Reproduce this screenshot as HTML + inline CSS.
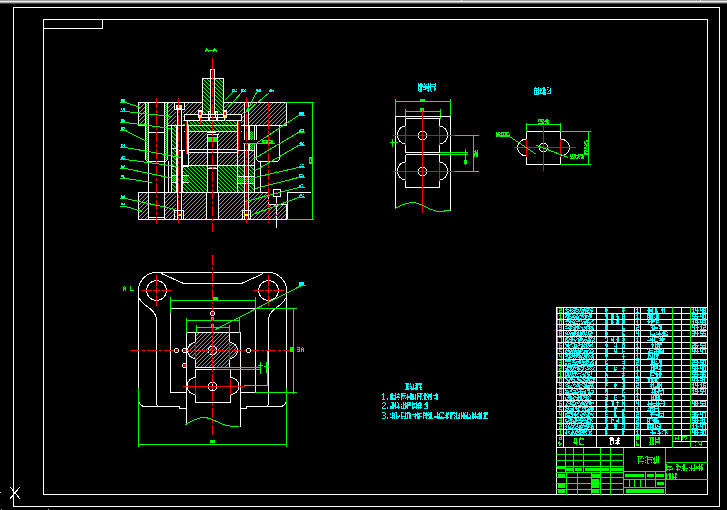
<!DOCTYPE html><html><head><meta charset="utf-8"><style>html,body{margin:0;padding:0;background:#000;width:727px;height:510px;overflow:hidden}svg{display:block}</style></head><body><svg width="727" height="510" viewBox="0 0 727 510" shape-rendering="crispEdges">
<defs><pattern id="hp" patternUnits="userSpaceOnUse" x="0" y="0" width="4" height="4">
<rect x="3" y="0" width="1" height="1" fill="#00ff00"/><rect x="2" y="1" width="1" height="1" fill="#00ff00"/>
<rect x="1" y="2" width="1" height="1" fill="#00ff00"/><rect x="0" y="3" width="1" height="1" fill="#00ff00"/></pattern>
<pattern id="hb" patternUnits="userSpaceOnUse" x="0" y="0" width="4" height="4">
<rect x="0" y="0" width="1" height="1" fill="#00ff00"/><rect x="1" y="1" width="1" height="1" fill="#00ff00"/>
<rect x="2" y="2" width="1" height="1" fill="#00ff00"/><rect x="3" y="3" width="1" height="1" fill="#00ff00"/></pattern>
<pattern id="kn" patternUnits="userSpaceOnUse" x="0" y="0" width="2" height="2">
<rect x="0" y="0" width="1" height="1" fill="#00ff00"/><rect x="1" y="1" width="1" height="1" fill="#00ff00"/></pattern></defs>
<rect width="727" height="510" fill="#000"/>
<rect x="0" y="0" width="727" height="1" fill="#9a9a9a"/>
<rect x="0" y="1" width="727" height="1" fill="#eeeeee"/>
<rect x="0" y="2" width="727" height="1" fill="#a6a6a6"/>
<rect x="0" y="3" width="727" height="1" fill="#454545"/>
<rect x="700" y="0" width="1" height="1" fill="#dddddd"/>
<rect x="461" y="0" width="1" height="1" fill="#dddddd"/>
<rect x="0" y="492" width="1" height="1" fill="#bbbbbb"/>
<rect x="1" y="509" width="1" height="1" fill="#bbbbbb"/>
<rect x="48" y="509" width="1" height="1" fill="#bbbbbb"/>
<rect x="13" y="7" width="707" height="1" fill="#ffffff"/>
<rect x="13" y="506" width="707" height="1" fill="#ffffff"/>
<rect x="13" y="7" width="1" height="500" fill="#ffffff"/>
<rect x="719" y="7" width="1" height="500" fill="#ffffff"/>
<rect x="43" y="19" width="665" height="1" fill="#ffffff"/>
<rect x="43" y="494" width="665" height="1" fill="#ffffff"/>
<rect x="43" y="19" width="1" height="476" fill="#ffffff"/>
<rect x="707" y="19" width="1" height="476" fill="#ffffff"/>
<rect x="43" y="19" width="60" height="1" fill="#ffffff"/>
<rect x="43" y="28" width="60" height="1" fill="#ffffff"/>
<rect x="43" y="19" width="1" height="10" fill="#ffffff"/>
<rect x="102" y="19" width="1" height="10" fill="#ffffff"/>
<line x1="10.5" y1="487.5" x2="20.5" y2="499.5" stroke="#ffffff" stroke-width="1"/>
<line x1="19.5" y1="487.5" x2="9.5" y2="499.5" stroke="#ffffff" stroke-width="1"/>
<rect x="138" y="102" width="149" height="23" fill="#000"/>
<rect x="138" y="102" width="149" height="23" fill="url(#hp)"/>
<rect x="202" y="78" width="22" height="37" fill="#000"/>
<rect x="202" y="78" width="22" height="37" fill="url(#hb)"/>
<rect x="184" y="120" width="57" height="12" fill="#000"/>
<rect x="184" y="120" width="57" height="12" fill="url(#hb)"/>
<rect x="171" y="125" width="5" height="67" fill="#000"/>
<rect x="171" y="125" width="5" height="67" fill="url(#hb)"/>
<rect x="188" y="132" width="49" height="17" fill="#000"/>
<rect x="188" y="132" width="49" height="17" fill="url(#hp)"/>
<rect x="188" y="152" width="49" height="13" fill="#000"/>
<rect x="188" y="152" width="49" height="13" fill="url(#hp)"/>
<rect x="182" y="165" width="55" height="27" fill="#000"/>
<rect x="182" y="165" width="55" height="27" fill="url(#hb)"/>
<rect x="238" y="150" width="16" height="15" fill="#000"/>
<rect x="238" y="150" width="16" height="15" fill="url(#hp)"/>
<rect x="238" y="165" width="16" height="27" fill="#000"/>
<rect x="238" y="165" width="16" height="27" fill="url(#hb)"/>
<rect x="138" y="192" width="148" height="28" fill="#000"/>
<rect x="138" y="192" width="148" height="28" fill="url(#hp)"/>
<rect x="145" y="102" width="23" height="59" fill="#000"/>
<rect x="148" y="161" width="17" height="58" fill="#000"/>
<rect x="176" y="102" width="7" height="117" fill="#000"/>
<rect x="174" y="102" width="10" height="8" fill="#000"/>
<rect x="184" y="114" width="58" height="6" fill="#000"/>
<rect x="210" y="69" width="5" height="45" fill="#000"/>
<rect x="207" y="132" width="11" height="60" fill="#000"/>
<rect x="206" y="192" width="12" height="27" fill="#000"/>
<rect x="244" y="102" width="5" height="117" fill="#000"/>
<rect x="254" y="125" width="34" height="67" fill="#000"/>
<rect x="268" y="192" width="20" height="12" fill="#000"/>
<rect x="188" y="149" width="49" height="3" fill="#000"/>
<rect x="176" y="125" width="12" height="25" fill="#000"/>
<rect x="169" y="125" width="7" height="1" fill="#000"/>
<rect x="146" y="103" width="2" height="58" fill="url(#kn)"/>
<rect x="165" y="103" width="2" height="58" fill="url(#kn)"/>
<rect x="238" y="176" width="16" height="7" fill="url(#kn)"/>
<rect x="249" y="131" width="5" height="19" fill="#000"/>
<rect x="250" y="131" width="3" height="19" fill="url(#kn)"/>
<rect x="249" y="125" width="1" height="26" fill="#ffffff"/>
<rect x="254" y="125" width="1" height="68" fill="#ffffff"/>
<rect x="202" y="78" width="1" height="37" fill="#ffffff"/>
<rect x="223" y="78" width="1" height="37" fill="#ffffff"/>
<rect x="202" y="78" width="22" height="1" fill="#ffffff"/>
<rect x="210" y="69" width="1" height="46" fill="#ffffff"/>
<rect x="214" y="69" width="1" height="46" fill="#ffffff"/>
<rect x="210" y="69" width="5" height="1" fill="#ffffff"/>
<rect x="138" y="102" width="65" height="1" fill="#ffffff"/>
<rect x="223" y="102" width="64" height="1" fill="#ffffff"/>
<rect x="138" y="102" width="1" height="24" fill="#ffffff"/>
<rect x="286" y="102" width="1" height="24" fill="#ffffff"/>
<rect x="138" y="125" width="8" height="1" fill="#ffffff"/>
<rect x="168" y="125" width="17" height="1" fill="#ffffff"/>
<rect x="184" y="125" width="58" height="1" fill="#ffffff"/>
<rect x="241" y="125" width="46" height="1" fill="#ffffff"/>
<rect x="145" y="102" width="1" height="57" fill="#ffffff"/>
<rect x="148" y="102" width="1" height="117" fill="#ffffff"/>
<rect x="164" y="102" width="1" height="117" fill="#ffffff"/>
<rect x="167" y="102" width="1" height="57" fill="#ffffff"/>
<rect x="148" y="161" width="17" height="1" fill="#ffffff"/>
<path d="M145.5 158 Q145.5 161.5 148.5 161.5" fill="none" stroke="#ffffff" stroke-width="1"/>
<path d="M167.5 158 Q167.5 161.5 164.5 161.5" fill="none" stroke="#ffffff" stroke-width="1"/>
<rect x="148" y="132" width="17" height="1" fill="#ffffff"/>
<rect x="148" y="217" width="17" height="1" fill="#ffffff"/>
<rect x="148" y="219" width="17" height="1" fill="#ffffff"/>
<rect x="174" y="102" width="11" height="1" fill="#ffffff"/>
<rect x="174" y="109" width="11" height="1" fill="#ffffff"/>
<rect x="174" y="102" width="1" height="8" fill="#ffffff"/>
<rect x="184" y="102" width="1" height="8" fill="#ffffff"/>
<rect x="176" y="105" width="6" height="1" fill="#ffffff"/>
<rect x="176" y="108" width="6" height="1" fill="#ffffff"/>
<rect x="176" y="105" width="1" height="4" fill="#ffffff"/>
<rect x="181" y="105" width="1" height="4" fill="#ffffff"/>
<rect x="177" y="106" width="4" height="2" fill="#ffff00"/>
<rect x="177" y="109" width="1" height="111" fill="#ffffff"/>
<rect x="181" y="109" width="1" height="111" fill="#ffffff"/>
<rect x="184" y="114" width="58" height="1" fill="#ffffff"/>
<rect x="184" y="120" width="58" height="1" fill="#ffffff"/>
<rect x="184" y="114" width="1" height="7" fill="#ffffff"/>
<rect x="241" y="114" width="1" height="7" fill="#ffffff"/>
<rect x="199" y="117" width="1" height="4" fill="#ffffff"/>
<rect x="208" y="117" width="1" height="4" fill="#ffffff"/>
<rect x="209" y="117" width="1" height="4" fill="#ffffff"/>
<rect x="216" y="117" width="1" height="4" fill="#ffffff"/>
<rect x="217" y="117" width="1" height="4" fill="#ffffff"/>
<rect x="224" y="117" width="1" height="4" fill="#ffffff"/>
<rect x="199" y="117" width="26" height="1" fill="#ffffff"/>
<rect x="208" y="111" width="3" height="1" fill="#ffffff"/>
<rect x="208" y="117" width="3" height="1" fill="#ffffff"/>
<rect x="208" y="111" width="1" height="7" fill="#ffffff"/>
<rect x="210" y="111" width="1" height="7" fill="#ffffff"/>
<rect x="215" y="111" width="3" height="1" fill="#ffffff"/>
<rect x="215" y="117" width="3" height="1" fill="#ffffff"/>
<rect x="215" y="111" width="1" height="7" fill="#ffffff"/>
<rect x="217" y="111" width="1" height="7" fill="#ffffff"/>
<rect x="198" y="110" width="4" height="8" fill="#ffffff"/>
<rect x="199" y="112" width="2" height="3" fill="#ff0000"/>
<rect x="199" y="116" width="3" height="2" fill="#ffff00"/>
<rect x="200" y="118" width="1" height="7" fill="#ff0000"/>
<rect x="223" y="110" width="4" height="8" fill="#ffffff"/>
<rect x="224" y="112" width="2" height="3" fill="#ff0000"/>
<rect x="223" y="116" width="3" height="2" fill="#ffff00"/>
<rect x="225" y="118" width="1" height="7" fill="#ff0000"/>
<rect x="184" y="131" width="58" height="1" fill="#ffffff"/>
<rect x="188" y="149" width="50" height="1" fill="#ffffff"/>
<rect x="188" y="152" width="50" height="1" fill="#ffffff"/>
<rect x="182" y="165" width="60" height="1" fill="#ffffff"/>
<rect x="138" y="192" width="131" height="1" fill="#ffffff"/>
<rect x="188" y="125" width="1" height="41" fill="#ffffff"/>
<rect x="237" y="125" width="1" height="68" fill="#ffffff"/>
<rect x="168" y="161" width="1" height="32" fill="#ffffff"/>
<rect x="171" y="125" width="1" height="68" fill="#ffffff"/>
<rect x="176" y="125" width="1" height="68" fill="#ffffff"/>
<rect x="182" y="150" width="1" height="43" fill="#ffffff"/>
<rect x="171" y="148" width="6" height="1" fill="#ffffff"/>
<rect x="171" y="166" width="6" height="1" fill="#ffffff"/>
<rect x="182" y="166" width="7" height="1" fill="#ffffff"/>
<rect x="171" y="175" width="6" height="1" fill="#ffffff"/>
<rect x="182" y="175" width="7" height="1" fill="#ffffff"/>
<rect x="171" y="182" width="6" height="1" fill="#ffffff"/>
<rect x="182" y="182" width="7" height="1" fill="#ffffff"/>
<rect x="176" y="150" width="13" height="1" fill="#ffffff"/>
<rect x="172" y="176" width="4" height="6" fill="#000"/>
<rect x="172" y="176" width="4" height="6" fill="url(#kn)"/>
<rect x="183" y="176" width="4" height="6" fill="#000"/>
<rect x="183" y="176" width="4" height="6" fill="url(#kn)"/>
<rect x="185" y="121" width="3" height="32" fill="#000"/>
<rect x="187" y="121" width="1" height="33" fill="#ffffff"/>
<rect x="186" y="121" width="1" height="33" fill="#ff0000"/>
<rect x="238" y="121" width="3" height="32" fill="#000"/>
<rect x="237" y="121" width="1" height="33" fill="#ffffff"/>
<rect x="238" y="121" width="1" height="33" fill="#ff0000"/>
<rect x="207" y="132" width="9" height="1" fill="#ffffff"/>
<rect x="207" y="134" width="12" height="1" fill="#ffffff"/>
<rect x="207" y="134" width="1" height="59" fill="#ffffff"/>
<rect x="217" y="134" width="1" height="59" fill="#ffffff"/>
<rect x="208" y="137" width="9" height="5" fill="#00ff00"/>
<rect x="208" y="165" width="9" height="1" fill="#ffffff"/>
<rect x="208" y="168" width="10" height="1" fill="#ffffff"/>
<rect x="209" y="167" width="7" height="1" fill="#00ff00"/>
<rect x="206" y="192" width="1" height="28" fill="#ffffff"/>
<rect x="218" y="192" width="1" height="28" fill="#ffffff"/>
<rect x="244" y="102" width="1" height="118" fill="#ffffff"/>
<rect x="248" y="102" width="1" height="118" fill="#ffffff"/>
<rect x="254" y="125" width="1" height="68" fill="#ffffff"/>
<path d="M256.5 125.5 V158 Q256.5 161.5 260 161.5 H276 Q279.5 161.5 279.5 158 V125.5" fill="none" stroke="#ffffff" stroke-width="1"/>
<rect x="260" y="162" width="1" height="31" fill="#ffffff"/>
<rect x="238" y="150" width="17" height="1" fill="#ffffff"/>
<rect x="238" y="165" width="17" height="1" fill="#ffffff"/>
<rect x="238" y="176" width="17" height="1" fill="#ffffff"/>
<rect x="238" y="183" width="17" height="1" fill="#ffffff"/>
<rect x="242" y="140" width="32" height="4" fill="#000"/>
<rect x="243" y="143" width="32" height="1" fill="#00ff00"/>
<rect x="262" y="140" width="11" height="3" fill="#00ff00"/>
<rect x="264" y="141" width="2" height="1" fill="#000"/>
<rect x="269" y="141" width="2" height="1" fill="#000"/>
<rect x="268" y="192" width="1" height="13" fill="#ffffff"/>
<rect x="268" y="204" width="19" height="1" fill="#ffffff"/>
<rect x="286" y="204" width="1" height="16" fill="#ffffff"/>
<rect x="138" y="219" width="149" height="1" fill="#ffffff"/>
<rect x="138" y="192" width="1" height="28" fill="#ffffff"/>
<rect x="287" y="192" width="24" height="1" fill="#ffffff"/>
<rect x="287" y="192" width="1" height="28" fill="#ffffff"/>
<rect x="174" y="210" width="10" height="1" fill="#ffffff"/>
<rect x="174" y="219" width="10" height="1" fill="#ffffff"/>
<rect x="174" y="210" width="1" height="10" fill="#ffffff"/>
<rect x="183" y="210" width="1" height="10" fill="#ffffff"/>
<rect x="177" y="214" width="4" height="2" fill="#ffff00"/>
<rect x="178" y="215" width="2" height="0" fill="#000"/>
<rect x="242" y="210" width="9" height="1" fill="#ffffff"/>
<rect x="242" y="219" width="9" height="1" fill="#ffffff"/>
<rect x="242" y="210" width="1" height="10" fill="#ffffff"/>
<rect x="250" y="210" width="1" height="10" fill="#ffffff"/>
<rect x="244" y="214" width="4" height="2" fill="#ffff00"/>
<rect x="245" y="215" width="2" height="0" fill="#000"/>
<rect x="273" y="189" width="7" height="7" fill="#000"/>
<rect x="273" y="189" width="8" height="1" fill="#ffffff"/>
<rect x="273" y="196" width="8" height="1" fill="#ffffff"/>
<rect x="273" y="189" width="1" height="8" fill="#ffffff"/>
<rect x="280" y="189" width="1" height="8" fill="#ffffff"/>
<rect x="276" y="196" width="1" height="32" fill="#ffffff"/>
<rect x="276" y="192" width="1" height="2" fill="#ff00ff"/>
<rect x="276" y="203" width="1" height="2" fill="#ff00ff"/>
<rect x="276" y="214" width="1" height="2" fill="#ff00ff"/>
<rect x="276" y="171" width="1" height="1" fill="#ff00ff"/><rect x="276" y="183" width="1" height="1" fill="#ff00ff"/>
<rect x="212" y="58" width="1" height="12" fill="#ff0000"/>
<rect x="212" y="70" width="1" height="10" fill="#ff0000"/>
<rect x="212" y="82" width="1" height="3" fill="#ff0000"/>
<rect x="212" y="87" width="1" height="10" fill="#ff0000"/>
<rect x="212" y="99" width="1" height="3" fill="#ff0000"/>
<rect x="212" y="104" width="1" height="10" fill="#ff0000"/>
<rect x="212" y="116" width="1" height="3" fill="#ff0000"/>
<rect x="212" y="121" width="1" height="10" fill="#ff0000"/>
<rect x="212" y="133" width="1" height="3" fill="#ff0000"/>
<rect x="212" y="138" width="1" height="10" fill="#ff0000"/>
<rect x="212" y="150" width="1" height="3" fill="#ff0000"/>
<rect x="212" y="155" width="1" height="10" fill="#ff0000"/>
<rect x="212" y="167" width="1" height="3" fill="#ff0000"/>
<rect x="212" y="172" width="1" height="10" fill="#ff0000"/>
<rect x="212" y="184" width="1" height="3" fill="#ff0000"/>
<rect x="212" y="189" width="1" height="10" fill="#ff0000"/>
<rect x="212" y="201" width="1" height="3" fill="#ff0000"/>
<rect x="212" y="206" width="1" height="10" fill="#ff0000"/>
<rect x="212" y="218" width="1" height="3" fill="#ff0000"/>
<rect x="212" y="223" width="1" height="9" fill="#ff0000"/>
<rect x="156" y="98" width="1" height="10" fill="#ff0000"/>
<rect x="156" y="110" width="1" height="3" fill="#ff0000"/>
<rect x="156" y="115" width="1" height="10" fill="#ff0000"/>
<rect x="156" y="127" width="1" height="3" fill="#ff0000"/>
<rect x="156" y="132" width="1" height="10" fill="#ff0000"/>
<rect x="156" y="144" width="1" height="3" fill="#ff0000"/>
<rect x="156" y="149" width="1" height="10" fill="#ff0000"/>
<rect x="156" y="161" width="1" height="3" fill="#ff0000"/>
<rect x="156" y="166" width="1" height="10" fill="#ff0000"/>
<rect x="156" y="178" width="1" height="3" fill="#ff0000"/>
<rect x="156" y="183" width="1" height="10" fill="#ff0000"/>
<rect x="156" y="195" width="1" height="3" fill="#ff0000"/>
<rect x="156" y="200" width="1" height="10" fill="#ff0000"/>
<rect x="156" y="212" width="1" height="3" fill="#ff0000"/>
<rect x="156" y="217" width="1" height="7" fill="#ff0000"/>
<rect x="178" y="98" width="1" height="10" fill="#ff0000"/>
<rect x="178" y="110" width="1" height="3" fill="#ff0000"/>
<rect x="178" y="115" width="1" height="10" fill="#ff0000"/>
<rect x="178" y="127" width="1" height="3" fill="#ff0000"/>
<rect x="178" y="132" width="1" height="10" fill="#ff0000"/>
<rect x="178" y="144" width="1" height="3" fill="#ff0000"/>
<rect x="178" y="149" width="1" height="10" fill="#ff0000"/>
<rect x="178" y="161" width="1" height="3" fill="#ff0000"/>
<rect x="178" y="166" width="1" height="10" fill="#ff0000"/>
<rect x="178" y="178" width="1" height="3" fill="#ff0000"/>
<rect x="178" y="183" width="1" height="10" fill="#ff0000"/>
<rect x="178" y="195" width="1" height="3" fill="#ff0000"/>
<rect x="178" y="200" width="1" height="10" fill="#ff0000"/>
<rect x="178" y="212" width="1" height="3" fill="#ff0000"/>
<rect x="178" y="217" width="1" height="6" fill="#ff0000"/>
<rect x="246" y="97" width="1" height="10" fill="#ff0000"/>
<rect x="246" y="109" width="1" height="3" fill="#ff0000"/>
<rect x="246" y="114" width="1" height="10" fill="#ff0000"/>
<rect x="246" y="126" width="1" height="3" fill="#ff0000"/>
<rect x="246" y="131" width="1" height="10" fill="#ff0000"/>
<rect x="246" y="143" width="1" height="3" fill="#ff0000"/>
<rect x="246" y="148" width="1" height="10" fill="#ff0000"/>
<rect x="246" y="160" width="1" height="3" fill="#ff0000"/>
<rect x="246" y="165" width="1" height="10" fill="#ff0000"/>
<rect x="246" y="177" width="1" height="3" fill="#ff0000"/>
<rect x="246" y="182" width="1" height="10" fill="#ff0000"/>
<rect x="246" y="194" width="1" height="3" fill="#ff0000"/>
<rect x="246" y="199" width="1" height="10" fill="#ff0000"/>
<rect x="246" y="211" width="1" height="3" fill="#ff0000"/>
<rect x="246" y="216" width="1" height="7" fill="#ff0000"/>
<rect x="268" y="102" width="1" height="10" fill="#ff0000"/>
<rect x="268" y="114" width="1" height="3" fill="#ff0000"/>
<rect x="268" y="119" width="1" height="10" fill="#ff0000"/>
<rect x="268" y="131" width="1" height="3" fill="#ff0000"/>
<rect x="268" y="136" width="1" height="10" fill="#ff0000"/>
<rect x="268" y="148" width="1" height="3" fill="#ff0000"/>
<rect x="268" y="153" width="1" height="10" fill="#ff0000"/>
<rect x="268" y="165" width="1" height="3" fill="#ff0000"/>
<rect x="268" y="170" width="1" height="10" fill="#ff0000"/>
<rect x="268" y="182" width="1" height="3" fill="#ff0000"/>
<rect x="268" y="187" width="1" height="10" fill="#ff0000"/>
<rect x="268" y="199" width="1" height="3" fill="#ff0000"/>
<rect x="268" y="204" width="1" height="10" fill="#ff0000"/>
<rect x="268" y="216" width="1" height="3" fill="#ff0000"/>
<rect x="268" y="221" width="1" height="2" fill="#ff0000"/>
<rect x="286" y="102" width="28" height="1" fill="#00ff00"/>
<rect x="312" y="102" width="1" height="118" fill="#00ff00"/>
<rect x="287" y="219" width="27" height="1" fill="#00ff00"/>
<rect x="309" y="157" width="3" height="7" fill="#00ff00"/>
<rect x="310" y="159" width="1" height="3" fill="#000"/>
<rect x="120" y="102" width="6" height="1" fill="#00ff00"/>
<line x1="125.5" y1="102.5" x2="140.5" y2="107.5" stroke="#00ff00" stroke-width="1"/>
<rect x="120" y="111" width="6" height="1" fill="#00ff00"/>
<line x1="125.5" y1="111.5" x2="171.5" y2="116.5" stroke="#00ff00" stroke-width="1"/>
<rect x="120" y="122" width="6" height="1" fill="#00ff00"/>
<line x1="125.5" y1="122.5" x2="171.5" y2="128.5" stroke="#00ff00" stroke-width="1"/>
<rect x="120" y="130" width="6" height="1" fill="#00ff00"/>
<line x1="125.5" y1="130.5" x2="146.5" y2="141.5" stroke="#00ff00" stroke-width="1"/>
<rect x="120" y="147" width="6" height="1" fill="#00ff00"/>
<line x1="125.5" y1="147.5" x2="181.5" y2="157.5" stroke="#00ff00" stroke-width="1"/>
<rect x="120" y="159" width="6" height="1" fill="#00ff00"/>
<line x1="125.5" y1="159.5" x2="177.5" y2="166.5" stroke="#00ff00" stroke-width="1"/>
<rect x="120" y="168" width="6" height="1" fill="#00ff00"/>
<line x1="125.5" y1="168.5" x2="173.5" y2="178.5" stroke="#00ff00" stroke-width="1"/>
<rect x="120" y="178" width="6" height="1" fill="#00ff00"/>
<line x1="125.5" y1="178.5" x2="152.5" y2="182.5" stroke="#00ff00" stroke-width="1"/>
<rect x="120" y="198" width="6" height="1" fill="#00ff00"/>
<line x1="125.5" y1="198.5" x2="175.5" y2="209.5" stroke="#00ff00" stroke-width="1"/>
<rect x="120" y="206" width="6" height="1" fill="#00ff00"/>
<line x1="125.5" y1="206.5" x2="142.5" y2="211.5" stroke="#00ff00" stroke-width="1"/>
<rect x="298" y="115" width="7" height="1" fill="#00ff00"/>
<line x1="298.5" y1="115.5" x2="254.5" y2="144.5" stroke="#00ff00" stroke-width="1"/>
<rect x="298" y="132" width="7" height="1" fill="#00ff00"/>
<line x1="298.5" y1="132.5" x2="254.5" y2="158.5" stroke="#00ff00" stroke-width="1"/>
<rect x="298" y="145" width="7" height="1" fill="#00ff00"/>
<line x1="298.5" y1="145.5" x2="255.5" y2="170.5" stroke="#00ff00" stroke-width="1"/>
<rect x="298" y="167" width="7" height="1" fill="#00ff00"/>
<line x1="298.5" y1="167.5" x2="254.5" y2="177.5" stroke="#00ff00" stroke-width="1"/>
<rect x="298" y="177" width="7" height="1" fill="#00ff00"/>
<line x1="298.5" y1="177.5" x2="255.5" y2="188.5" stroke="#00ff00" stroke-width="1"/>
<rect x="298" y="187" width="7" height="1" fill="#00ff00"/>
<line x1="298.5" y1="187.5" x2="245.5" y2="201.5" stroke="#00ff00" stroke-width="1"/>
<rect x="298" y="197" width="7" height="1" fill="#00ff00"/>
<line x1="298.5" y1="197.5" x2="252.5" y2="214.5" stroke="#00ff00" stroke-width="1"/>
<line x1="232.5" y1="92.5" x2="224.5" y2="100.5" stroke="#00ff00" stroke-width="1"/>
<line x1="241.5" y1="92.5" x2="226.5" y2="109.5" stroke="#00ff00" stroke-width="1"/>
<line x1="256.5" y1="92.5" x2="246.5" y2="111.5" stroke="#00ff00" stroke-width="1"/>
<line x1="269.5" y1="92.5" x2="244.5" y2="113.5" stroke="#00ff00" stroke-width="1"/>
<path d="M195.5 332.5 H229.5 V342.5 A8 8 0 0 1 229.5 358.5 V367.5 H195.5 V358.5 A8 8 0 0 1 195.5 342.5 Z" fill="url(#hp)" stroke="none"/>
<path d="M195.5 332.5 H229.5 V342.5 A8 8 0 0 1 229.5 358.5 V367.5 H195.5 V358.5 A8 8 0 0 1 195.5 342.5 Z" fill="none" stroke="#ffffff" stroke-width="1"/>
<path d="M156.5 272.5 H268.5" fill="none" stroke="#ffffff" stroke-width="1"/>
<path d="M138.5 290.5 A18 18 0 0 1 156.5 272.5" fill="none" stroke="#ffffff" stroke-width="1"/>
<path d="M268.5 272.5 A18 18 0 0 1 286.5 290.5" fill="none" stroke="#ffffff" stroke-width="1"/>
<path d="M138.5 290.5 V400 A6.5 6.5 0 0 0 145 406.5 H179.5 V408.5 H185.5" fill="none" stroke="#ffffff" stroke-width="1"/>
<path d="M286.5 290.5 V400 A6.5 6.5 0 0 1 280 406.5 H246.5 V408.5 H239.5" fill="none" stroke="#ffffff" stroke-width="1"/>
<path d="M139.5 298.5 C142 304 147 306 151 309.5 C155 313 156.5 316 156.5 320 V403 Q156.5 406.5 160 406.5" fill="none" stroke="#ffffff" stroke-width="1"/>
<path d="M285.5 298.5 C283 304 278 306 274 309.5 C270 313 268.5 316 268.5 320 V403 Q268.5 406.5 265 406.5" fill="none" stroke="#ffffff" stroke-width="1"/>
<path d="M161.5 273.5 L183.5 283.5 H241.5 L263.5 273.5" fill="none" stroke="#ffffff" stroke-width="1"/>
<circle cx="156.5" cy="290.5" r="10" fill="none" stroke="#ffffff" stroke-width="1"/>
<circle cx="268.5" cy="290.5" r="10" fill="none" stroke="#ffffff" stroke-width="1"/>
<rect x="170" y="308" width="1" height="85" fill="#ffffff"/>
<rect x="170" y="308" width="86" height="1" fill="#ffffff"/>
<rect x="255" y="297" width="1" height="96" fill="#ffffff"/>
<rect x="170" y="392" width="17" height="1" fill="#ffffff"/>
<rect x="240" y="392" width="16" height="1" fill="#ffffff"/>
<rect x="186" y="332" width="1" height="93" fill="#ffffff"/>
<rect x="240" y="332" width="1" height="95" fill="#ffffff"/>
<rect x="186" y="332" width="55" height="1" fill="#ffffff"/>
<rect x="170" y="300" width="86" height="1" fill="#00ff00"/>
<rect x="170" y="297" width="1" height="16" fill="#00ff00"/>
<rect x="255" y="297" width="1" height="12" fill="#00ff00"/>
<rect x="213" y="297" width="5" height="4" fill="#00ff00"/>
<rect x="255" y="308" width="42" height="1" fill="#00ff00"/>
<rect x="293" y="308" width="1" height="86" fill="#00ff00"/>
<rect x="255" y="392" width="42" height="1" fill="#00ff00"/>
<rect x="186" y="320" width="54" height="1" fill="#00ff00"/>
<rect x="186" y="318" width="1" height="15" fill="#00ff00"/>
<rect x="239" y="318" width="1" height="15" fill="#00ff00"/>
<rect x="211" y="317" width="3" height="3" fill="#00ff00"/>
<rect x="196" y="327" width="34" height="1" fill="#00ff00"/>
<rect x="196" y="325" width="1" height="8" fill="#00ff00"/>
<rect x="229" y="325" width="1" height="8" fill="#00ff00"/>
<rect x="211" y="324" width="3" height="3" fill="#00ff00"/>
<circle cx="212.5" cy="350.5" r="4.5" fill="none" stroke="#ffffff" stroke-width="1"/>
<rect x="195" y="342" width="1" height="18" fill="#ff0000"/>
<rect x="229" y="342" width="1" height="18" fill="#ff0000"/>
<rect x="210" y="313" width="5" height="1" fill="#ff0000"/>
<rect x="212" y="311" width="1" height="5" fill="#ff0000"/>
<path d="M195.5 377.5 V369.5 H230.5 V377.5 A8.5 8.5 0 0 1 230.5 394.5 V402.5 H195.5 V394.5 A8.5 8.5 0 0 1 195.5 377.5" fill="none" stroke="#ffffff" stroke-width="1"/>
<circle cx="212.5" cy="386.5" r="4.3" fill="none" stroke="#ffffff" stroke-width="1"/>
<rect x="195" y="379" width="1" height="16" fill="#ff0000"/>
<rect x="230" y="379" width="1" height="16" fill="#ff0000"/>
<rect x="212" y="382" width="1" height="10" fill="#ffffff"/>
<rect x="208" y="386" width="10" height="1" fill="#ffffff"/>
<rect x="212" y="255" width="1" height="10" fill="#ff0000"/>
<rect x="212" y="267" width="1" height="3" fill="#ff0000"/>
<rect x="212" y="272" width="1" height="10" fill="#ff0000"/>
<rect x="212" y="284" width="1" height="3" fill="#ff0000"/>
<rect x="212" y="289" width="1" height="10" fill="#ff0000"/>
<rect x="212" y="301" width="1" height="3" fill="#ff0000"/>
<rect x="212" y="306" width="1" height="10" fill="#ff0000"/>
<rect x="212" y="318" width="1" height="3" fill="#ff0000"/>
<rect x="212" y="323" width="1" height="10" fill="#ff0000"/>
<rect x="212" y="335" width="1" height="3" fill="#ff0000"/>
<rect x="212" y="340" width="1" height="10" fill="#ff0000"/>
<rect x="212" y="352" width="1" height="3" fill="#ff0000"/>
<rect x="212" y="357" width="1" height="10" fill="#ff0000"/>
<rect x="212" y="369" width="1" height="3" fill="#ff0000"/>
<rect x="212" y="374" width="1" height="10" fill="#ff0000"/>
<rect x="212" y="386" width="1" height="3" fill="#ff0000"/>
<rect x="212" y="391" width="1" height="10" fill="#ff0000"/>
<rect x="212" y="403" width="1" height="3" fill="#ff0000"/>
<rect x="212" y="408" width="1" height="10" fill="#ff0000"/>
<rect x="212" y="420" width="1" height="3" fill="#ff0000"/>
<rect x="212" y="425" width="1" height="10" fill="#ff0000"/>
<rect x="130" y="350" width="10" height="1" fill="#ff0000"/>
<rect x="142" y="350" width="3" height="1" fill="#ff0000"/>
<rect x="147" y="350" width="10" height="1" fill="#ff0000"/>
<rect x="159" y="350" width="3" height="1" fill="#ff0000"/>
<rect x="164" y="350" width="10" height="1" fill="#ff0000"/>
<rect x="176" y="350" width="3" height="1" fill="#ff0000"/>
<rect x="181" y="350" width="10" height="1" fill="#ff0000"/>
<rect x="193" y="350" width="3" height="1" fill="#ff0000"/>
<rect x="198" y="350" width="10" height="1" fill="#ff0000"/>
<rect x="210" y="350" width="3" height="1" fill="#ff0000"/>
<rect x="215" y="350" width="10" height="1" fill="#ff0000"/>
<rect x="227" y="350" width="3" height="1" fill="#ff0000"/>
<rect x="232" y="350" width="10" height="1" fill="#ff0000"/>
<rect x="244" y="350" width="3" height="1" fill="#ff0000"/>
<rect x="249" y="350" width="10" height="1" fill="#ff0000"/>
<rect x="261" y="350" width="3" height="1" fill="#ff0000"/>
<rect x="266" y="350" width="10" height="1" fill="#ff0000"/>
<rect x="278" y="350" width="3" height="1" fill="#ff0000"/>
<rect x="283" y="350" width="10" height="1" fill="#ff0000"/>
<rect x="183" y="386" width="62" height="1" fill="#ff0000"/>
<rect x="141" y="290" width="11" height="1" fill="#ff0000"/>
<rect x="156" y="275" width="1" height="11" fill="#ff0000"/>
<rect x="153" y="290" width="3" height="1" fill="#ff0000"/>
<rect x="156" y="287" width="1" height="3" fill="#ff0000"/>
<rect x="157" y="290" width="3" height="1" fill="#ff0000"/>
<rect x="156" y="291" width="1" height="3" fill="#ff0000"/>
<rect x="161" y="290" width="11" height="1" fill="#ff0000"/>
<rect x="156" y="295" width="1" height="11" fill="#ff0000"/>
<rect x="156" y="290" width="1" height="1" fill="#ff0000"/>
<rect x="253" y="290" width="11" height="1" fill="#ff0000"/>
<rect x="268" y="275" width="1" height="11" fill="#ff0000"/>
<rect x="265" y="290" width="3" height="1" fill="#ff0000"/>
<rect x="268" y="287" width="1" height="3" fill="#ff0000"/>
<rect x="269" y="290" width="3" height="1" fill="#ff0000"/>
<rect x="268" y="291" width="1" height="3" fill="#ff0000"/>
<rect x="273" y="290" width="11" height="1" fill="#ff0000"/>
<rect x="268" y="295" width="1" height="11" fill="#ff0000"/>
<rect x="268" y="290" width="1" height="1" fill="#ff0000"/>
<path d="M185.5 424.5 C192 421 198 417 204.5 417.5 C212 418 218 423 225 425 C230 426.5 235 426.5 239.5 426" fill="none" stroke="#00ff00" stroke-width="1"/>
<rect x="138" y="444" width="149" height="1" fill="#00ff00"/>
<rect x="138" y="388" width="1" height="59" fill="#00ff00"/>
<rect x="286" y="388" width="1" height="59" fill="#00ff00"/>
<rect x="210" y="440" width="5" height="3" fill="#00ff00"/>
<line x1="215.5" y1="329.5" x2="301.5" y2="285.5" stroke="#00ff00" stroke-width="1"/>
<rect x="299" y="282" width="5" height="4" fill="#00ffff"/>
<rect x="301" y="285" width="5" height="1" fill="#00ff00"/>
<rect x="267" y="351" width="1" height="35" fill="#00ff00"/>
<rect x="244" y="385" width="24" height="1" fill="#00ff00"/>
<rect x="215" y="367" width="46" height="1" fill="#00ff00"/>
<rect x="215" y="369" width="46" height="1" fill="#00ff00"/>
<rect x="260" y="362" width="1" height="12" fill="#00ff00"/>
<rect x="258" y="365" width="5" height="1" fill="#00ff00"/>
<rect x="266" y="362" width="1" height="11" fill="#00ff00"/>
<rect x="264" y="366" width="5" height="1" fill="#00ff00"/>
<rect x="290" y="347" width="4" height="5" fill="#00ff00"/>
<rect x="182" y="365" width="5" height="1" fill="#ff0000"/>
<rect x="184" y="363" width="1" height="5" fill="#ff0000"/>
<rect x="395" y="101" width="56" height="1" fill="#00ff00"/>
<rect x="395" y="99" width="1" height="18" fill="#00ff00"/>
<rect x="450" y="99" width="1" height="18" fill="#00ff00"/>
<rect x="420" y="99" width="5" height="2" fill="#00ff00"/>
<rect x="405" y="111" width="36" height="1" fill="#00ff00"/>
<rect x="405" y="109" width="1" height="10" fill="#00ff00"/>
<rect x="440" y="109" width="1" height="10" fill="#00ff00"/>
<rect x="420" y="108" width="4" height="3" fill="#00ff00"/>
<rect x="395" y="116" width="1" height="93" fill="#ffffff"/>
<rect x="450" y="116" width="1" height="95" fill="#ffffff"/>
<rect x="395" y="116" width="56" height="1" fill="#ffffff"/>
<path d="M405.5 118.5 H439.5 V126 M439.5 144 V152.5 H405.5 V144 M405.5 126 V118.5" fill="none" stroke="#fff"/>
<path d="M405.5 154.5 H439.5 V162 M439.5 180 V187.5 H405.5 V180 M405.5 162 V154.5" fill="none" stroke="#fff"/>
<path d="M405.5 126 A8 9 0 0 0 405.5 144" fill="none" stroke="#ffffff" stroke-width="1"/>
<path d="M439.5 126 A8 9 0 0 1 439.5 144" fill="none" stroke="#ffffff" stroke-width="1"/>
<rect x="405" y="126" width="1" height="19" fill="#ff0000"/>
<rect x="439" y="126" width="1" height="19" fill="#ff0000"/>
<circle cx="422.5" cy="135.5" r="4.4" fill="none" stroke="#ffffff" stroke-width="1"/>
<rect x="393" y="135" width="62" height="1" fill="#ff0000"/>
<path d="M405.5 162 A8 9 0 0 0 405.5 180" fill="none" stroke="#ffffff" stroke-width="1"/>
<path d="M439.5 162 A8 9 0 0 1 439.5 180" fill="none" stroke="#ffffff" stroke-width="1"/>
<rect x="405" y="162" width="1" height="19" fill="#ff0000"/>
<rect x="439" y="162" width="1" height="19" fill="#ff0000"/>
<circle cx="422.5" cy="171.5" r="4.4" fill="none" stroke="#ffffff" stroke-width="1"/>
<rect x="393" y="171" width="62" height="1" fill="#ff0000"/>
<rect x="422" y="110" width="1" height="103" fill="#ff0000"/>
<rect x="455" y="135" width="24" height="1" fill="#00ff00"/>
<rect x="455" y="171" width="24" height="1" fill="#00ff00"/>
<rect x="473" y="135" width="1" height="37" fill="#00ff00"/>
<rect x="440" y="152" width="28" height="1" fill="#00ff00"/>
<rect x="440" y="154" width="28" height="1" fill="#00ff00"/>
<rect x="465" y="149" width="1" height="16" fill="#00ff00"/>
<rect x="464" y="160" width="3" height="4" fill="#00ff00"/>
<rect x="390" y="142" width="8" height="1" fill="#00ff00"/>
<rect x="392" y="139" width="1" height="8" fill="#00ff00"/>
<path d="M395.5 208.5 C401 205 407 202.5 413.5 202.5 C421 202.5 430 211.5 439.5 211.5 C444 211.5 447 210.5 449.5 210" fill="none" stroke="#00ff00" stroke-width="1"/>
<path d="M526.5 139 V131.5 H560.5 V139 M560.5 156 V164.5 H526.5 V156" fill="none" stroke="#fff"/>
<path d="M526.5 139 A9 8.5 0 0 0 526.5 156" fill="none" stroke="#ffffff" stroke-width="1"/>
<path d="M560.5 139 A9 8.5 0 0 1 560.5 156" fill="none" stroke="#ffffff" stroke-width="1"/>
<rect x="526" y="139" width="1" height="18" fill="#ff0000"/>
<rect x="560" y="139" width="1" height="18" fill="#ff0000"/>
<circle cx="543.5" cy="147.5" r="4.4" fill="none" stroke="#ffffff" stroke-width="1"/>
<rect x="514" y="147" width="62" height="1" fill="#ff0000"/>
<rect x="543" y="126" width="1" height="45" fill="#ff0000"/>
<rect x="526" y="124" width="35" height="1" fill="#00ff00"/>
<rect x="526" y="123" width="1" height="9" fill="#00ff00"/>
<rect x="560" y="123" width="1" height="9" fill="#00ff00"/>
<rect x="560" y="131" width="31" height="1" fill="#00ff00"/>
<rect x="560" y="164" width="31" height="1" fill="#00ff00"/>
<rect x="588" y="131" width="1" height="34" fill="#00ff00"/>
<line x1="509.5" y1="136.5" x2="536.5" y2="154.5" stroke="#00ff00" stroke-width="1"/>
<line x1="536.5" y1="145.5" x2="568.5" y2="157.5" stroke="#00ff00" stroke-width="1"/>
<rect x="556" y="307" width="152" height="1" fill="#ffffff"/>
<rect x="556" y="313" width="152" height="1" fill="#ffffff"/>
<rect x="556" y="319" width="152" height="1" fill="#ffffff"/>
<rect x="556" y="324" width="152" height="1" fill="#ffffff"/>
<rect x="556" y="330" width="152" height="1" fill="#ffffff"/>
<rect x="556" y="336" width="152" height="1" fill="#ffffff"/>
<rect x="556" y="342" width="152" height="1" fill="#ffffff"/>
<rect x="556" y="348" width="152" height="1" fill="#ffffff"/>
<rect x="556" y="353" width="152" height="1" fill="#ffffff"/>
<rect x="556" y="359" width="152" height="1" fill="#ffffff"/>
<rect x="556" y="365" width="152" height="1" fill="#ffffff"/>
<rect x="556" y="371" width="152" height="1" fill="#ffffff"/>
<rect x="556" y="377" width="152" height="1" fill="#ffffff"/>
<rect x="556" y="382" width="152" height="1" fill="#ffffff"/>
<rect x="556" y="388" width="152" height="1" fill="#ffffff"/>
<rect x="556" y="394" width="152" height="1" fill="#ffffff"/>
<rect x="556" y="400" width="152" height="1" fill="#ffffff"/>
<rect x="556" y="406" width="152" height="1" fill="#ffffff"/>
<rect x="556" y="411" width="152" height="1" fill="#ffffff"/>
<rect x="556" y="417" width="152" height="1" fill="#ffffff"/>
<rect x="556" y="423" width="152" height="1" fill="#ffffff"/>
<rect x="556" y="429" width="152" height="1" fill="#ffffff"/>
<rect x="556" y="435" width="152" height="1" fill="#ffffff"/>
<rect x="556" y="447" width="152" height="1" fill="#ffffff"/>
<rect x="556" y="494" width="152" height="1" fill="#ffffff"/>
<rect x="556" y="307" width="1" height="129" fill="#ffffff"/>
<rect x="563" y="307" width="1" height="129" fill="#ffffff"/>
<rect x="596" y="307" width="1" height="129" fill="#ffffff"/>
<rect x="634" y="307" width="1" height="129" fill="#ffffff"/>
<rect x="640" y="307" width="1" height="129" fill="#ffffff"/>
<rect x="681" y="307" width="1" height="129" fill="#ffffff"/>
<rect x="707" y="307" width="1" height="129" fill="#ffffff"/>
<rect x="672" y="307" width="1" height="141" fill="#00ff00"/>
<rect x="690" y="307" width="1" height="141" fill="#00ff00"/>
<rect x="556" y="435" width="1" height="60" fill="#ffffff"/>
<rect x="707" y="435" width="1" height="60" fill="#ffffff"/>
<rect x="563" y="435" width="1" height="13" fill="#ffffff"/>
<rect x="596" y="435" width="1" height="13" fill="#ffffff"/>
<rect x="634" y="435" width="1" height="13" fill="#ffffff"/>
<rect x="640" y="435" width="1" height="13" fill="#ffffff"/>
<rect x="681" y="435" width="1" height="7" fill="#ffffff"/>
<rect x="672" y="441" width="36" height="1" fill="#ffffff"/>
<rect x="556" y="454" width="68" height="1" fill="#00ff00"/>
<rect x="556" y="460" width="68" height="1" fill="#00ff00"/>
<rect x="556" y="466" width="68" height="1" fill="#00ff00"/>
<rect x="556" y="472" width="68" height="1" fill="#00ff00"/>
<rect x="556" y="477" width="68" height="1" fill="#00ff00"/>
<rect x="556" y="483" width="68" height="1" fill="#00ff00"/>
<rect x="556" y="489" width="68" height="1" fill="#00ff00"/>
<rect x="565" y="448" width="1" height="25" fill="#00ff00"/>
<rect x="573" y="448" width="1" height="25" fill="#00ff00"/>
<rect x="583" y="448" width="1" height="25" fill="#00ff00"/>
<rect x="600" y="448" width="1" height="25" fill="#00ff00"/>
<rect x="610" y="448" width="1" height="25" fill="#00ff00"/>
<rect x="623" y="448" width="1" height="25" fill="#00ff00"/>
<rect x="566" y="472" width="1" height="23" fill="#00ff00"/>
<rect x="577" y="472" width="1" height="23" fill="#00ff00"/>
<rect x="591" y="472" width="1" height="23" fill="#00ff00"/>
<rect x="600" y="472" width="1" height="23" fill="#00ff00"/>
<rect x="610" y="472" width="1" height="23" fill="#00ff00"/>
<rect x="623" y="448" width="1" height="47" fill="#00ff00"/>
<rect x="665" y="448" width="1" height="47" fill="#00ff00"/>
<rect x="623" y="471" width="43" height="1" fill="#00ff00"/>
<rect x="623" y="479" width="43" height="1" fill="#00ff00"/>
<rect x="623" y="487" width="43" height="1" fill="#00ff00"/>
<rect x="645" y="471" width="1" height="17" fill="#00ff00"/>
<rect x="655" y="471" width="1" height="17" fill="#00ff00"/>
<rect x="629" y="479" width="1" height="9" fill="#00ff00"/>
<rect x="634" y="479" width="1" height="9" fill="#00ff00"/>
<rect x="640" y="479" width="1" height="9" fill="#00ff00"/>
<rect x="625" y="474" width="19" height="3" fill="#00ff00"/>
<rect x="647" y="474" width="7" height="3" fill="#00ff00"/>
<rect x="656" y="474" width="8" height="3" fill="#00ff00"/>
<rect x="657" y="482" width="7" height="3" fill="#00ff00"/>
<rect x="626" y="489" width="38" height="4" fill="#00ff00"/>
<rect x="665" y="462" width="43" height="1" fill="#00ff00"/>
<rect x="665" y="479" width="43" height="1" fill="#00ff00"/>
<rect x="557" y="466" width="8" height="3" fill="#00ff00"/>
<rect x="566" y="468" width="7" height="3" fill="#00ff00"/>
<rect x="575" y="468" width="7" height="3" fill="#00ff00"/>
<rect x="585" y="468" width="24" height="3" fill="#00ff00"/>
<rect x="611" y="468" width="12" height="3" fill="#00ff00"/>
<rect x="558" y="474" width="7" height="3" fill="#00ff00"/>
<rect x="591" y="474" width="9" height="3" fill="#00ff00"/>
<rect x="592" y="479" width="7" height="4" fill="#00ff00"/>
<rect x="558" y="484" width="7" height="4" fill="#00ff00"/>
<rect x="592" y="484" width="7" height="4" fill="#00ff00"/>
<rect x="558" y="490" width="7" height="3" fill="#00ff00"/>
<rect x="592" y="490" width="7" height="3" fill="#00ff00"/>
<path d="M206 48h1v1h-1zM214 48h1v1h-1zM206 49h2v1h-2zM213 49h3v1h-3zM205 50h12v1h-12zM205 51h1v1h-1zM208 51h1v1h-1zM213 51h1v1h-1zM216 51h1v1h-1zM124 286h1v1h-1zM123 287h1v1h-1zM125 287h1v1h-1zM123 288h3v1h-3zM123 289h1v1h-1zM125 289h1v1h-1zM123 290h1v1h-1zM125 290h1v1h-1zM130 286h1v1h-1zM130 287h1v1h-1zM130 288h1v1h-1zM130 289h1v1h-1zM130 290h4v1h-4zM297 347h3v1h-3zM299 348h1v1h-1zM297 349h3v1h-3zM299 350h1v1h-1zM297 351h3v1h-3zM302 347h1v1h-1zM301 348h1v1h-1zM303 348h1v1h-1zM301 349h3v1h-3zM301 350h1v1h-1zM303 350h1v1h-1zM301 351h1v1h-1zM303 351h1v1h-1zM475 150h1v1h-1zM477 150h1v1h-1zM474 151h2v1h-2zM477 151h1v1h-1zM475 152h3v1h-3zM474 153h4v1h-4zM474 154h4v1h-4zM474 155h1v1h-1zM476 155h2v1h-2zM474 156h1v1h-1zM476 156h2v1h-2zM538 119h6v1h-6zM546 119h2v1h-2zM538 120h1v1h-1zM540 120h2v1h-2zM543 120h1v1h-1zM545 120h4v1h-4zM538 121h1v1h-1zM540 121h3v1h-3zM544 121h4v1h-4zM542 122h2v1h-2zM546 122h3v1h-3zM538 123h6v1h-6zM545 123h1v1h-1zM547 123h2v1h-2zM586 140h3v1h-3zM584 141h1v1h-1zM586 141h2v1h-2zM584 142h2v1h-2zM588 142h1v1h-1zM584 143h2v1h-2zM587 143h1v1h-1zM585 144h2v1h-2zM588 144h1v1h-1zM584 145h1v1h-1zM586 145h3v1h-3zM586 146h1v1h-1zM588 146h1v1h-1zM584 147h2v1h-2zM588 147h1v1h-1zM584 148h3v1h-3zM588 148h1v1h-1zM588 149h1v1h-1zM584 150h3v1h-3zM588 150h1v1h-1zM584 151h1v1h-1zM586 151h3v1h-3zM584 152h2v1h-2zM584 153h4v1h-4zM584 154h5v1h-5zM496 132h1v1h-1zM498 132h2v1h-2zM501 132h8v1h-8zM496 133h3v1h-3zM500 133h2v1h-2zM503 133h1v1h-1zM505 133h2v1h-2zM496 134h4v1h-4zM501 134h1v1h-1zM503 134h1v1h-1zM505 134h2v1h-2zM509 134h1v1h-1zM496 135h14v1h-14zM496 136h2v1h-2zM499 136h11v1h-11zM570 154h1v1h-1zM572 154h4v1h-4zM578 154h5v1h-5zM570 155h1v1h-1zM572 155h1v1h-1zM574 155h5v1h-5zM580 155h4v1h-4zM570 156h3v1h-3zM574 156h2v1h-2zM578 156h2v1h-2zM582 156h2v1h-2zM571 157h1v1h-1zM573 157h1v1h-1zM575 157h1v1h-1zM577 157h2v1h-2zM581 157h3v1h-3zM570 158h5v1h-5zM576 158h2v1h-2zM579 158h1v1h-1zM581 158h3v1h-3zM557 308h1v1h-1zM557 309h1v1h-1zM557 310h1v1h-1zM557 311h1v1h-1zM557 312h1v1h-1zM559 308h3v1h-3zM561 309h1v1h-1zM559 310h3v1h-3zM559 311h1v1h-1zM559 312h3v1h-3zM557 314h1v1h-1zM557 315h1v1h-1zM557 316h1v1h-1zM557 317h1v1h-1zM557 318h1v1h-1zM560 314h1v1h-1zM559 315h2v1h-2zM560 316h1v1h-1zM560 317h1v1h-1zM559 318h3v1h-3zM557 320h1v1h-1zM557 321h1v1h-1zM557 322h1v1h-1zM557 323h1v1h-1zM559 320h3v1h-3zM559 321h1v1h-1zM561 321h1v1h-1zM559 322h1v1h-1zM561 322h1v1h-1zM559 323h1v1h-1zM561 323h1v1h-1zM557 325h1v1h-1zM557 326h1v1h-1zM557 327h1v1h-1zM557 328h1v1h-1zM557 329h1v1h-1zM559 325h3v1h-3zM559 326h1v1h-1zM561 326h1v1h-1zM559 327h3v1h-3zM561 328h1v1h-1zM559 329h3v1h-3zM557 331h1v1h-1zM557 332h1v1h-1zM557 333h1v1h-1zM557 334h1v1h-1zM557 335h1v1h-1zM559 331h3v1h-3zM559 332h1v1h-1zM561 332h1v1h-1zM559 333h3v1h-3zM559 334h1v1h-1zM561 334h1v1h-1zM559 335h3v1h-3zM557 337h1v1h-1zM557 338h1v1h-1zM557 339h1v1h-1zM557 340h1v1h-1zM557 341h1v1h-1zM559 337h3v1h-3zM561 338h1v1h-1zM561 339h1v1h-1zM561 340h1v1h-1zM561 341h1v1h-1zM557 343h1v1h-1zM557 344h1v1h-1zM557 345h1v1h-1zM557 346h1v1h-1zM557 347h1v1h-1zM559 343h3v1h-3zM559 344h1v1h-1zM559 345h3v1h-3zM559 346h1v1h-1zM561 346h1v1h-1zM559 347h3v1h-3zM557 349h1v1h-1zM557 350h1v1h-1zM557 351h1v1h-1zM557 352h1v1h-1zM559 349h3v1h-3zM559 350h1v1h-1zM559 351h3v1h-3zM561 352h1v1h-1zM557 354h1v1h-1zM557 355h1v1h-1zM557 356h1v1h-1zM557 357h1v1h-1zM557 358h1v1h-1zM559 354h1v1h-1zM561 354h1v1h-1zM559 355h1v1h-1zM561 355h1v1h-1zM559 356h3v1h-3zM561 357h1v1h-1zM561 358h1v1h-1zM557 360h1v1h-1zM557 361h1v1h-1zM557 362h1v1h-1zM557 363h1v1h-1zM557 364h1v1h-1zM559 360h3v1h-3zM561 361h1v1h-1zM559 362h3v1h-3zM561 363h1v1h-1zM559 364h3v1h-3zM557 366h1v1h-1zM557 367h1v1h-1zM557 368h1v1h-1zM557 369h1v1h-1zM557 370h1v1h-1zM559 366h3v1h-3zM561 367h1v1h-1zM559 368h3v1h-3zM559 369h1v1h-1zM559 370h3v1h-3zM557 372h1v1h-1zM557 373h1v1h-1zM557 374h1v1h-1zM557 375h1v1h-1zM557 376h1v1h-1zM560 372h1v1h-1zM559 373h2v1h-2zM560 374h1v1h-1zM560 375h1v1h-1zM559 376h3v1h-3zM557 378h1v1h-1zM557 379h1v1h-1zM557 380h1v1h-1zM557 381h1v1h-1zM559 378h3v1h-3zM559 379h1v1h-1zM561 379h1v1h-1zM559 380h1v1h-1zM561 380h1v1h-1zM559 381h1v1h-1zM561 381h1v1h-1zM559 383h3v1h-3zM559 384h1v1h-1zM561 384h1v1h-1zM559 385h3v1h-3zM561 386h1v1h-1zM559 387h3v1h-3zM559 389h3v1h-3zM559 390h1v1h-1zM561 390h1v1h-1zM559 391h3v1h-3zM559 392h1v1h-1zM561 392h1v1h-1zM559 393h3v1h-3zM559 395h3v1h-3zM561 396h1v1h-1zM561 397h1v1h-1zM561 398h1v1h-1zM561 399h1v1h-1zM559 401h3v1h-3zM559 402h1v1h-1zM559 403h3v1h-3zM559 404h1v1h-1zM561 404h1v1h-1zM559 405h3v1h-3zM559 407h3v1h-3zM559 408h1v1h-1zM559 409h3v1h-3zM561 410h1v1h-1zM559 412h1v1h-1zM561 412h1v1h-1zM559 413h1v1h-1zM561 413h1v1h-1zM559 414h3v1h-3zM561 415h1v1h-1zM561 416h1v1h-1zM559 418h3v1h-3zM561 419h1v1h-1zM559 420h3v1h-3zM561 421h1v1h-1zM559 422h3v1h-3zM559 424h3v1h-3zM561 425h1v1h-1zM559 426h3v1h-3zM559 427h1v1h-1zM559 428h3v1h-3zM560 430h1v1h-1zM559 431h2v1h-2zM560 432h1v1h-1zM560 433h1v1h-1zM559 434h3v1h-3zM574 438h3v1h-3zM574 439h1v1h-1zM576 439h1v1h-1zM574 440h1v1h-1zM576 440h1v1h-1zM574 441h1v1h-1zM576 441h1v1h-1zM573 442h5v1h-5zM574 443h3v1h-3zM576 444h1v1h-1zM580 437h1v1h-1zM579 438h5v1h-5zM579 439h2v1h-2zM582 439h2v1h-2zM579 440h1v1h-1zM579 441h1v1h-1zM579 442h1v1h-1zM579 443h2v1h-2zM579 444h5v1h-5zM649 437h5v1h-5zM650 438h1v1h-1zM652 438h2v1h-2zM650 439h1v1h-1zM652 439h2v1h-2zM650 440h1v1h-1zM652 440h2v1h-2zM650 441h1v1h-1zM652 441h2v1h-2zM649 442h2v1h-2zM652 442h2v1h-2zM650 443h1v1h-1zM652 443h2v1h-2zM649 444h5v1h-5zM655 437h1v1h-1zM658 437h2v1h-2zM655 438h1v1h-1zM658 438h2v1h-2zM655 439h5v1h-5zM655 440h1v1h-1zM659 440h1v1h-1zM655 441h5v1h-5zM655 442h5v1h-5zM655 443h1v1h-1zM659 443h1v1h-1zM655 444h1v1h-1zM678 436h1v1h-1zM675 437h1v1h-1zM678 437h1v1h-1zM675 438h4v1h-4zM675 439h1v1h-1zM678 439h1v1h-1zM682 436h5v1h-5zM682 437h1v1h-1zM684 437h1v1h-1zM682 438h1v1h-1zM686 438h1v1h-1zM682 439h1v1h-1zM685 439h1v1h-1zM697 441h5v1h-5zM695 442h1v1h-1zM698 442h1v1h-1zM701 442h1v1h-1zM701 443h1v1h-1zM699 444h3v1h-3zM695 445h1v1h-1zM701 445h1v1h-1zM561 436h1v1h-1zM559 437h3v1h-3zM559 438h1v1h-1zM561 438h1v1h-1zM559 439h3v1h-3zM559 441h1v1h-1zM558 442h2v1h-2zM558 443h4v1h-4zM559 444h2v1h-2zM559 445h1v1h-1zM636 436h3v1h-3zM636 437h3v1h-3zM636 438h3v1h-3zM636 439h3v1h-3zM636 441h1v1h-1zM636 442h1v1h-1zM636 443h1v1h-1zM636 444h3v1h-3zM636 445h3v1h-3zM637 456h6v1h-6zM638 457h1v1h-1zM641 457h1v1h-1zM638 458h1v1h-1zM640 458h1v1h-1zM643 458h1v1h-1zM638 459h1v1h-1zM638 460h1v1h-1zM638 461h6v1h-6zM638 462h1v1h-1zM638 463h1v1h-1zM642 463h1v1h-1zM646 456h2v1h-2zM645 457h1v1h-1zM647 457h5v1h-5zM647 458h1v1h-1zM647 459h5v1h-5zM645 460h1v1h-1zM647 460h1v1h-1zM651 460h1v1h-1zM647 461h1v1h-1zM645 462h1v1h-1zM647 462h1v1h-1zM651 462h1v1h-1zM647 463h2v1h-2zM656 456h1v1h-1zM658 456h1v1h-1zM652 457h1v1h-1zM654 457h1v1h-1zM656 457h1v1h-1zM658 457h1v1h-1zM653 458h2v1h-2zM656 458h1v1h-1zM658 458h1v1h-1zM653 459h2v1h-2zM656 459h3v1h-3zM654 460h1v1h-1zM656 460h3v1h-3zM654 461h1v1h-1zM656 461h1v1h-1zM658 461h1v1h-1zM653 462h6v1h-6zM654 463h2v1h-2zM666 464h1v1h-1zM666 465h1v1h-1zM666 466h6v1h-6zM666 467h2v1h-2zM669 467h2v1h-2zM666 468h1v1h-1zM672 468h1v1h-1zM666 469h7v1h-7zM666 470h1v1h-1zM669 470h1v1h-1zM676 464h2v1h-2zM677 465h2v1h-2zM676 466h5v1h-5zM677 467h1v1h-1zM680 467h1v1h-1zM677 468h1v1h-1zM676 469h4v1h-4zM677 470h1v1h-1zM683 464h2v1h-2zM683 465h2v1h-2zM682 466h3v1h-3zM683 467h2v1h-2zM682 468h6v1h-6zM683 469h2v1h-2zM681 470h1v1h-1zM683 470h2v1h-2zM686 470h1v1h-1zM694 464h1v1h-1zM691 465h1v1h-1zM694 465h1v1h-1zM691 466h1v1h-1zM694 466h1v1h-1zM689 467h1v1h-1zM691 467h1v1h-1zM694 467h1v1h-1zM690 468h6v1h-6zM691 469h1v1h-1zM694 469h1v1h-1zM689 470h1v1h-1zM691 470h1v1h-1zM693 470h2v1h-2zM699 464h1v1h-1zM701 464h2v1h-2zM699 465h1v1h-1zM701 465h1v1h-1zM696 466h1v1h-1zM698 466h4v1h-4zM696 467h2v1h-2zM699 467h1v1h-1zM701 467h2v1h-2zM696 468h7v1h-7zM699 469h1v1h-1zM701 469h2v1h-2zM699 470h1v1h-1zM701 470h1v1h-1zM666 473h1v1h-1zM669 473h2v1h-2zM666 474h1v1h-1zM668 474h3v1h-3zM666 475h2v1h-2zM669 475h2v1h-2zM666 476h1v1h-1zM669 476h2v1h-2zM666 477h1v1h-1zM669 477h2v1h-2zM666 478h1v1h-1zM669 478h2v1h-2zM666 479h5v1h-5zM672 473h1v1h-1zM675 473h2v1h-2zM672 474h2v1h-2zM675 474h2v1h-2zM672 475h1v1h-1zM675 475h1v1h-1zM672 476h2v1h-2zM675 476h1v1h-1zM672 477h5v1h-5zM672 478h2v1h-2zM675 478h1v1h-1zM672 479h1v1h-1zM674 479h2v1h-2z" fill="#00ff00"/>
<path d="M121 99h4v1h-4zM121 100h4v1h-4zM121 101h4v1h-4zM121 108h1v1h-1zM123 108h2v1h-2zM121 109h1v1h-1zM123 109h2v1h-2zM122 110h1v1h-1zM124 110h1v1h-1zM121 119h3v1h-3zM121 120h4v1h-4zM121 121h4v1h-4zM121 127h4v1h-4zM121 128h2v1h-2zM124 128h1v1h-1zM121 129h3v1h-3zM121 144h2v1h-2zM124 144h1v1h-1zM121 145h1v1h-1zM123 145h2v1h-2zM121 146h2v1h-2zM124 146h1v1h-1zM122 156h3v1h-3zM121 157h2v1h-2zM121 158h4v1h-4zM121 165h1v1h-1zM124 165h1v1h-1zM121 166h4v1h-4zM121 167h3v1h-3zM121 175h3v1h-3zM121 176h3v1h-3zM123 177h2v1h-2zM121 195h1v1h-1zM124 195h1v1h-1zM121 196h4v1h-4zM121 197h4v1h-4zM121 203h2v1h-2zM124 203h1v1h-1zM121 204h4v1h-4zM299 112h5v1h-5zM299 113h5v1h-5zM299 114h5v1h-5zM300 129h4v1h-4zM299 130h2v1h-2zM303 130h1v1h-1zM299 131h5v1h-5zM300 142h2v1h-2zM303 142h1v1h-1zM299 143h4v1h-4zM300 144h4v1h-4zM300 164h1v1h-1zM302 164h2v1h-2zM299 166h5v1h-5zM299 174h4v1h-4zM299 175h1v1h-1zM303 175h1v1h-1zM299 176h5v1h-5zM301 184h2v1h-2zM299 185h2v1h-2zM299 186h2v1h-2zM302 186h1v1h-1zM300 194h2v1h-2zM303 194h1v1h-1zM299 195h3v1h-3zM299 196h1v1h-1zM302 196h2v1h-2zM232 89h3v1h-3zM236 89h1v1h-1zM232 90h1v1h-1zM234 90h1v1h-1zM232 91h5v1h-5zM241 89h3v1h-3zM245 89h1v1h-1zM241 90h2v1h-2zM244 90h1v1h-1zM241 91h5v1h-5zM256 89h2v1h-2zM259 89h2v1h-2zM256 90h5v1h-5zM257 91h4v1h-4zM270 89h2v1h-2zM269 90h5v1h-5zM269 91h3v1h-3zM273 91h1v1h-1zM418 83h1v1h-1zM420 83h2v1h-2zM418 84h5v1h-5zM418 85h5v1h-5zM418 86h6v1h-6zM418 87h1v1h-1zM420 87h2v1h-2zM423 87h1v1h-1zM418 88h1v1h-1zM420 88h2v1h-2zM418 89h4v1h-4zM423 89h1v1h-1zM418 90h1v1h-1zM420 90h2v1h-2zM419 91h3v1h-3zM424 83h1v1h-1zM428 83h1v1h-1zM424 84h1v1h-1zM426 84h1v1h-1zM428 84h1v1h-1zM425 85h1v1h-1zM428 85h1v1h-1zM424 86h6v1h-6zM424 87h6v1h-6zM425 88h4v1h-4zM424 89h2v1h-2zM428 89h1v1h-1zM427 90h2v1h-2zM428 91h1v1h-1zM430 83h1v1h-1zM435 83h1v1h-1zM430 84h6v1h-6zM430 85h1v1h-1zM435 85h1v1h-1zM430 86h6v1h-6zM430 87h1v1h-1zM434 87h1v1h-1zM430 88h1v1h-1zM434 88h2v1h-2zM430 89h1v1h-1zM434 89h2v1h-2zM430 90h1v1h-1zM434 90h1v1h-1zM431 91h1v1h-1zM535 87h1v1h-1zM538 87h1v1h-1zM534 88h5v1h-5zM534 89h1v1h-1zM536 89h1v1h-1zM538 89h1v1h-1zM534 90h6v1h-6zM534 91h1v1h-1zM536 91h1v1h-1zM538 91h1v1h-1zM534 92h1v1h-1zM536 92h3v1h-3zM534 93h1v1h-1zM536 93h1v1h-1zM538 93h2v1h-2zM534 94h5v1h-5zM543 87h2v1h-2zM540 88h1v1h-1zM542 88h3v1h-3zM540 89h2v1h-2zM543 89h3v1h-3zM540 90h2v1h-2zM543 90h2v1h-2zM540 91h1v1h-1zM543 91h2v1h-2zM540 92h1v1h-1zM542 92h4v1h-4zM540 93h5v1h-5zM543 94h3v1h-3zM547 87h2v1h-2zM550 88h1v1h-1zM545 89h1v1h-1zM547 89h1v1h-1zM550 89h1v1h-1zM545 90h1v1h-1zM549 90h2v1h-2zM548 91h1v1h-1zM550 91h1v1h-1zM550 92h1v1h-1zM545 93h1v1h-1zM547 93h4v1h-4zM405 383h4v1h-4zM406 384h3v1h-3zM406 385h2v1h-2zM406 386h3v1h-3zM406 387h2v1h-2zM406 388h3v1h-3zM405 389h4v1h-4zM410 383h1v1h-1zM410 384h1v1h-1zM413 384h1v1h-1zM413 385h1v1h-1zM410 386h2v1h-2zM413 386h1v1h-1zM411 387h1v1h-1zM413 387h1v1h-1zM410 388h4v1h-4zM411 389h3v1h-3zM415 383h3v1h-3zM416 384h2v1h-2zM415 385h3v1h-3zM416 386h2v1h-2zM415 387h3v1h-3zM414 388h4v1h-4zM415 389h3v1h-3zM418 383h4v1h-4zM418 384h4v1h-4zM420 385h1v1h-1zM420 386h1v1h-1zM419 387h3v1h-3zM420 388h1v1h-1zM420 389h2v1h-2zM383 393h1v1h-1zM382 394h2v1h-2zM383 395h1v1h-1zM383 396h1v1h-1zM383 397h1v1h-1zM383 398h1v1h-1zM382 399h3v1h-3zM387 398h1v1h-1zM387 399h1v1h-1zM391 393h2v1h-2zM390 394h3v1h-3zM390 395h5v1h-5zM390 396h3v1h-3zM390 397h3v1h-3zM390 398h5v1h-5zM390 399h5v1h-5zM395 393h1v1h-1zM398 393h1v1h-1zM395 394h1v1h-1zM397 394h3v1h-3zM395 395h1v1h-1zM395 396h1v1h-1zM397 396h2v1h-2zM395 397h5v1h-5zM395 398h1v1h-1zM395 399h1v1h-1zM398 399h1v1h-1zM401 393h5v1h-5zM401 394h2v1h-2zM401 395h5v1h-5zM401 396h2v1h-2zM404 396h1v1h-1zM401 397h1v1h-1zM401 398h1v1h-1zM403 398h1v1h-1zM405 398h1v1h-1zM401 399h1v1h-1zM410 393h1v1h-1zM407 394h1v1h-1zM410 394h1v1h-1zM407 395h1v1h-1zM410 395h1v1h-1zM407 396h4v1h-4zM406 397h5v1h-5zM407 398h1v1h-1zM410 398h1v1h-1zM407 399h1v1h-1zM410 399h1v1h-1zM411 393h1v1h-1zM411 394h3v1h-3zM415 394h1v1h-1zM411 395h3v1h-3zM415 395h1v1h-1zM411 396h3v1h-3zM415 396h1v1h-1zM411 397h3v1h-3zM415 397h1v1h-1zM411 398h5v1h-5zM411 399h3v1h-3zM415 399h1v1h-1zM417 393h5v1h-5zM417 394h1v1h-1zM420 394h2v1h-2zM417 395h2v1h-2zM420 395h1v1h-1zM417 396h5v1h-5zM417 397h1v1h-1zM420 397h1v1h-1zM417 398h1v1h-1zM420 398h1v1h-1zM417 399h1v1h-1zM420 399h1v1h-1zM422 393h1v1h-1zM424 393h2v1h-2zM424 394h3v1h-3zM423 395h4v1h-4zM424 396h2v1h-2zM424 397h2v1h-2zM424 398h2v1h-2zM422 399h1v1h-1zM424 399h3v1h-3zM427 393h1v1h-1zM431 393h1v1h-1zM428 394h4v1h-4zM428 395h4v1h-4zM427 396h5v1h-5zM427 397h2v1h-2zM430 397h2v1h-2zM428 398h1v1h-1zM431 398h1v1h-1zM428 399h1v1h-1zM430 399h2v1h-2zM436 393h1v1h-1zM435 394h3v1h-3zM433 395h5v1h-5zM436 396h2v1h-2zM436 397h2v1h-2zM434 398h4v1h-4zM436 399h2v1h-2zM383 402h2v1h-2zM382 403h1v1h-1zM385 403h1v1h-1zM385 404h1v1h-1zM384 405h1v1h-1zM383 406h1v1h-1zM382 407h1v1h-1zM382 408h4v1h-4zM387 407h1v1h-1zM387 408h1v1h-1zM391 402h3v1h-3zM392 403h2v1h-2zM392 404h3v1h-3zM392 405h3v1h-3zM390 406h5v1h-5zM390 407h4v1h-4zM390 408h4v1h-4zM395 402h1v1h-1zM397 402h1v1h-1zM395 403h1v1h-1zM398 403h1v1h-1zM395 404h1v1h-1zM398 404h1v1h-1zM395 405h1v1h-1zM398 405h1v1h-1zM395 406h1v1h-1zM397 406h2v1h-2zM395 407h5v1h-5zM395 408h1v1h-1zM398 408h1v1h-1zM403 402h1v1h-1zM405 402h1v1h-1zM403 403h1v1h-1zM405 403h1v1h-1zM401 404h1v1h-1zM403 404h3v1h-3zM403 405h1v1h-1zM405 405h1v1h-1zM401 406h1v1h-1zM403 406h1v1h-1zM405 406h1v1h-1zM401 407h1v1h-1zM403 407h1v1h-1zM405 407h1v1h-1zM401 408h5v1h-5zM407 402h4v1h-4zM406 403h2v1h-2zM409 403h2v1h-2zM407 404h4v1h-4zM406 405h5v1h-5zM406 406h2v1h-2zM406 407h2v1h-2zM407 408h1v1h-1zM412 402h1v1h-1zM416 402h1v1h-1zM412 403h5v1h-5zM412 404h3v1h-3zM416 404h1v1h-1zM412 405h1v1h-1zM416 405h1v1h-1zM412 406h1v1h-1zM414 406h1v1h-1zM416 406h1v1h-1zM412 407h5v1h-5zM412 408h2v1h-2zM416 408h1v1h-1zM419 402h2v1h-2zM418 403h4v1h-4zM417 404h2v1h-2zM420 404h2v1h-2zM417 405h5v1h-5zM418 406h1v1h-1zM420 406h1v1h-1zM417 407h5v1h-5zM418 408h1v1h-1zM420 408h1v1h-1zM426 402h2v1h-2zM425 403h3v1h-3zM424 404h4v1h-4zM426 405h2v1h-2zM426 406h2v1h-2zM427 407h1v1h-1zM424 408h4v1h-4zM382 412h3v1h-3zM385 413h1v1h-1zM385 414h1v1h-1zM383 415h2v1h-2zM385 416h1v1h-1zM385 417h1v1h-1zM382 418h3v1h-3zM387 417h1v1h-1zM387 418h1v1h-1zM392 412h1v1h-1zM390 413h1v1h-1zM392 413h3v1h-3zM390 414h1v1h-1zM392 414h1v1h-1zM394 414h1v1h-1zM392 415h3v1h-3zM392 416h1v1h-1zM394 416h1v1h-1zM390 417h5v1h-5zM392 418h1v1h-1zM394 418h1v1h-1zM395 412h2v1h-2zM396 413h1v1h-1zM396 414h1v1h-1zM396 415h1v1h-1zM399 415h1v1h-1zM396 416h4v1h-4zM396 417h1v1h-1zM398 417h1v1h-1zM396 418h2v1h-2zM401 412h3v1h-3zM405 412h1v1h-1zM401 413h1v1h-1zM405 413h1v1h-1zM401 414h1v1h-1zM405 414h1v1h-1zM401 415h1v1h-1zM405 415h1v1h-1zM401 416h5v1h-5zM401 417h1v1h-1zM405 417h1v1h-1zM401 418h2v1h-2zM404 418h2v1h-2zM407 412h3v1h-3zM406 413h5v1h-5zM407 414h1v1h-1zM409 414h2v1h-2zM407 415h1v1h-1zM409 415h2v1h-2zM407 416h1v1h-1zM409 416h2v1h-2zM407 417h1v1h-1zM409 417h2v1h-2zM406 418h2v1h-2zM409 418h2v1h-2zM415 413h1v1h-1zM412 414h5v1h-5zM415 415h2v1h-2zM414 416h2v1h-2zM415 417h1v1h-1zM415 418h1v1h-1zM417 412h1v1h-1zM417 413h5v1h-5zM417 414h3v1h-3zM417 415h1v1h-1zM419 415h1v1h-1zM417 416h5v1h-5zM417 417h3v1h-3zM417 418h3v1h-3zM423 412h2v1h-2zM426 412h1v1h-1zM423 413h5v1h-5zM423 414h1v1h-1zM425 414h3v1h-3zM423 415h5v1h-5zM423 416h1v1h-1zM426 416h1v1h-1zM423 417h1v1h-1zM425 417h2v1h-2zM423 418h1v1h-1zM426 418h1v1h-1zM428 412h1v1h-1zM430 412h2v1h-2zM429 413h3v1h-3zM428 414h4v1h-4zM428 415h1v1h-1zM430 415h2v1h-2zM429 416h3v1h-3zM429 417h3v1h-3zM428 418h5v1h-5zM437 412h1v1h-1zM437 413h1v1h-1zM437 414h2v1h-2zM437 415h1v1h-1zM434 416h5v1h-5zM434 417h5v1h-5zM437 418h2v1h-2zM440 412h4v1h-4zM439 413h1v1h-1zM443 413h1v1h-1zM439 414h1v1h-1zM439 415h1v1h-1zM439 416h1v1h-1zM441 416h1v1h-1zM439 417h5v1h-5zM439 418h5v1h-5zM446 412h1v1h-1zM448 412h1v1h-1zM446 413h3v1h-3zM446 414h3v1h-3zM445 415h3v1h-3zM446 416h2v1h-2zM444 417h5v1h-5zM446 418h2v1h-2zM450 412h5v1h-5zM450 413h5v1h-5zM450 414h3v1h-3zM450 415h2v1h-2zM454 415h1v1h-1zM450 416h2v1h-2zM450 417h2v1h-2zM454 417h1v1h-1zM450 418h2v1h-2zM454 418h1v1h-1zM456 412h1v1h-1zM455 413h2v1h-2zM459 413h1v1h-1zM456 414h1v1h-1zM459 414h1v1h-1zM456 415h1v1h-1zM458 415h2v1h-2zM455 416h2v1h-2zM459 416h1v1h-1zM456 417h1v1h-1zM458 417h2v1h-2zM456 418h4v1h-4zM461 412h1v1h-1zM463 412h1v1h-1zM465 412h1v1h-1zM461 413h1v1h-1zM463 413h2v1h-2zM461 414h1v1h-1zM463 414h2v1h-2zM461 415h5v1h-5zM461 416h5v1h-5zM461 417h1v1h-1zM463 417h2v1h-2zM461 418h1v1h-1zM463 418h3v1h-3zM467 412h1v1h-1zM467 413h1v1h-1zM467 414h1v1h-1zM469 414h1v1h-1zM466 415h2v1h-2zM470 415h1v1h-1zM466 416h2v1h-2zM470 416h1v1h-1zM466 417h5v1h-5zM466 418h5v1h-5zM472 412h1v1h-1zM475 412h1v1h-1zM472 413h2v1h-2zM475 413h1v1h-1zM472 414h4v1h-4zM472 415h2v1h-2zM475 415h1v1h-1zM472 416h5v1h-5zM472 417h5v1h-5zM472 418h2v1h-2zM475 418h1v1h-1zM479 412h1v1h-1zM481 412h1v1h-1zM478 413h4v1h-4zM477 414h5v1h-5zM479 415h3v1h-3zM477 416h5v1h-5zM477 417h1v1h-1zM479 417h3v1h-3zM477 418h5v1h-5zM484 412h4v1h-4zM483 413h5v1h-5zM484 414h4v1h-4zM484 415h2v1h-2zM484 416h2v1h-2zM484 417h2v1h-2zM483 418h5v1h-5zM566 308h1v1h-1zM570 308h1v1h-1zM573 308h4v1h-4zM580 308h2v1h-2zM584 308h1v1h-1zM586 308h4v1h-4zM591 308h2v1h-2zM565 309h4v1h-4zM570 309h1v1h-1zM572 309h1v1h-1zM575 309h4v1h-4zM580 309h1v1h-1zM582 309h4v1h-4zM588 309h1v1h-1zM590 309h1v1h-1zM566 310h1v1h-1zM569 310h3v1h-3zM573 310h3v1h-3zM578 310h1v1h-1zM580 310h1v1h-1zM582 310h7v1h-7zM590 310h3v1h-3zM567 311h2v1h-2zM570 311h1v1h-1zM572 311h1v1h-1zM574 311h1v1h-1zM576 311h2v1h-2zM579 311h1v1h-1zM581 311h1v1h-1zM583 311h1v1h-1zM585 311h3v1h-3zM591 311h2v1h-2zM565 312h4v1h-4zM571 312h1v1h-1zM573 312h3v1h-3zM578 312h1v1h-1zM581 312h3v1h-3zM585 312h1v1h-1zM587 312h3v1h-3zM591 312h1v1h-1zM605 308h2v1h-2zM605 309h3v1h-3zM605 310h3v1h-3zM605 311h2v1h-2zM606 312h1v1h-1zM622 308h3v1h-3zM623 309h1v1h-1zM622 310h3v1h-3zM622 311h2v1h-2zM623 312h1v1h-1zM637 308h1v1h-1zM636 309h2v1h-2zM637 310h1v1h-1zM637 311h1v1h-1zM636 312h3v1h-3zM648 308h2v1h-2zM652 308h1v1h-1zM648 309h5v1h-5zM647 310h6v1h-6zM648 311h5v1h-5zM648 312h2v1h-2zM652 312h1v1h-1zM655 308h2v1h-2zM655 309h2v1h-2zM655 310h2v1h-2zM655 311h3v1h-3zM655 312h3v1h-3zM662 308h1v1h-1zM664 308h1v1h-1zM661 309h4v1h-4zM661 310h2v1h-2zM664 310h1v1h-1zM662 311h1v1h-1zM664 311h1v1h-1zM662 312h1v1h-1zM664 312h1v1h-1zM693 308h1v1h-1zM692 309h2v1h-2zM693 310h1v1h-1zM693 311h1v1h-1zM692 312h3v1h-3zM695 308h1v1h-1zM697 308h1v1h-1zM695 309h1v1h-1zM697 309h1v1h-1zM695 310h3v1h-3zM697 311h1v1h-1zM697 312h1v1h-1zM696 310h3v1h-3zM700 308h1v1h-1zM702 308h1v1h-1zM700 309h1v1h-1zM702 309h1v1h-1zM700 310h3v1h-3zM702 311h1v1h-1zM702 312h1v1h-1zM703 308h3v1h-3zM703 309h1v1h-1zM705 309h1v1h-1zM703 310h3v1h-3zM703 311h1v1h-1zM705 311h1v1h-1zM703 312h3v1h-3zM565 314h6v1h-6zM572 314h1v1h-1zM576 314h2v1h-2zM580 314h1v1h-1zM582 314h2v1h-2zM585 314h1v1h-1zM589 314h3v1h-3zM566 315h4v1h-4zM573 315h2v1h-2zM577 315h1v1h-1zM579 315h4v1h-4zM584 315h4v1h-4zM589 315h3v1h-3zM565 316h2v1h-2zM568 316h3v1h-3zM572 316h2v1h-2zM575 316h2v1h-2zM578 316h1v1h-1zM581 316h3v1h-3zM585 316h2v1h-2zM588 316h4v1h-4zM565 317h1v1h-1zM567 317h2v1h-2zM571 317h8v1h-8zM583 317h1v1h-1zM585 317h2v1h-2zM590 317h2v1h-2zM567 318h5v1h-5zM574 318h1v1h-1zM576 318h3v1h-3zM580 318h2v1h-2zM584 318h2v1h-2zM588 318h2v1h-2zM605 314h3v1h-3zM605 315h3v1h-3zM605 316h3v1h-3zM606 317h2v1h-2zM606 318h2v1h-2zM611 314h3v1h-3zM611 315h3v1h-3zM611 316h3v1h-3zM611 317h3v1h-3zM611 318h3v1h-3zM616 314h2v1h-2zM617 315h1v1h-1zM616 316h3v1h-3zM617 317h2v1h-2zM617 318h2v1h-2zM622 314h3v1h-3zM622 315h1v1h-1zM624 315h1v1h-1zM622 316h3v1h-3zM622 317h1v1h-1zM624 317h1v1h-1zM622 318h3v1h-3zM637 314h1v1h-1zM636 315h2v1h-2zM637 316h1v1h-1zM637 317h1v1h-1zM636 318h3v1h-3zM647 314h4v1h-4zM647 315h4v1h-4zM647 316h1v1h-1zM649 316h2v1h-2zM647 317h4v1h-4zM647 318h1v1h-1zM649 318h2v1h-2zM651 314h4v1h-4zM651 315h2v1h-2zM651 316h2v1h-2zM651 317h2v1h-2zM654 317h1v1h-1zM651 318h2v1h-2zM656 314h3v1h-3zM656 315h3v1h-3zM656 316h3v1h-3zM656 317h3v1h-3zM655 318h4v1h-4zM692 314h3v1h-3zM692 315h1v1h-1zM692 316h3v1h-3zM694 317h1v1h-1zM692 318h3v1h-3zM695 314h3v1h-3zM695 315h1v1h-1zM695 316h3v1h-3zM697 317h1v1h-1zM695 318h3v1h-3zM696 316h3v1h-3zM700 314h1v1h-1zM702 314h1v1h-1zM700 315h1v1h-1zM702 315h1v1h-1zM700 316h3v1h-3zM702 317h1v1h-1zM702 318h1v1h-1zM703 314h3v1h-3zM703 315h1v1h-1zM705 315h1v1h-1zM703 316h1v1h-1zM705 316h1v1h-1zM703 317h1v1h-1zM705 317h1v1h-1zM703 318h3v1h-3zM566 320h3v1h-3zM570 320h1v1h-1zM573 320h1v1h-1zM575 320h1v1h-1zM578 320h2v1h-2zM581 320h1v1h-1zM586 320h3v1h-3zM592 320h2v1h-2zM565 321h8v1h-8zM574 321h1v1h-1zM576 321h4v1h-4zM581 321h1v1h-1zM583 321h5v1h-5zM591 321h2v1h-2zM569 322h2v1h-2zM572 322h3v1h-3zM582 322h1v1h-1zM584 322h7v1h-7zM566 323h1v1h-1zM568 323h1v1h-1zM570 323h1v1h-1zM573 323h5v1h-5zM579 323h1v1h-1zM581 323h2v1h-2zM584 323h2v1h-2zM587 323h1v1h-1zM589 323h2v1h-2zM593 323h1v1h-1zM605 320h3v1h-3zM605 321h3v1h-3zM605 322h3v1h-3zM605 323h3v1h-3zM611 320h2v1h-2zM611 321h2v1h-2zM611 322h3v1h-3zM611 323h2v1h-2zM616 320h3v1h-3zM617 321h2v1h-2zM616 322h3v1h-3zM616 323h3v1h-3zM622 320h3v1h-3zM622 321h3v1h-3zM622 322h3v1h-3zM622 323h3v1h-3zM637 320h1v1h-1zM636 321h2v1h-2zM637 322h1v1h-1zM637 323h1v1h-1zM648 320h1v1h-1zM647 321h4v1h-4zM648 322h2v1h-2zM648 323h1v1h-1zM651 320h4v1h-4zM651 321h4v1h-4zM651 322h2v1h-2zM651 323h1v1h-1zM656 320h3v1h-3zM656 321h1v1h-1zM656 322h3v1h-3zM656 323h1v1h-1zM693 320h1v1h-1zM692 321h2v1h-2zM693 322h1v1h-1zM693 323h1v1h-1zM695 320h3v1h-3zM695 321h1v1h-1zM697 321h1v1h-1zM695 322h3v1h-3zM697 323h1v1h-1zM696 322h3v1h-3zM700 320h1v1h-1zM702 320h1v1h-1zM700 321h1v1h-1zM702 321h1v1h-1zM700 322h3v1h-3zM702 323h1v1h-1zM703 320h3v1h-3zM705 321h1v1h-1zM703 322h3v1h-3zM705 323h1v1h-1zM566 325h6v1h-6zM573 325h3v1h-3zM577 325h3v1h-3zM587 325h3v1h-3zM593 325h1v1h-1zM565 326h2v1h-2zM569 326h4v1h-4zM575 326h4v1h-4zM580 326h1v1h-1zM584 326h1v1h-1zM586 326h7v1h-7zM568 327h1v1h-1zM570 327h1v1h-1zM573 327h6v1h-6zM581 327h2v1h-2zM584 327h3v1h-3zM589 327h1v1h-1zM591 327h2v1h-2zM565 328h7v1h-7zM574 328h2v1h-2zM577 328h3v1h-3zM582 328h1v1h-1zM585 328h2v1h-2zM588 328h3v1h-3zM592 328h2v1h-2zM569 329h2v1h-2zM573 329h3v1h-3zM577 329h1v1h-1zM582 329h3v1h-3zM586 329h1v1h-1zM589 329h1v1h-1zM591 329h3v1h-3zM605 325h3v1h-3zM605 326h3v1h-3zM605 327h3v1h-3zM605 328h3v1h-3zM605 329h3v1h-3zM622 325h1v1h-1zM622 326h1v1h-1zM622 327h1v1h-1zM622 328h3v1h-3zM622 329h3v1h-3zM636 325h3v1h-3zM638 326h1v1h-1zM636 327h3v1h-3zM636 328h1v1h-1zM636 329h3v1h-3zM650 325h4v1h-4zM652 326h1v1h-1zM651 327h2v1h-2zM652 328h2v1h-2zM652 329h2v1h-2zM654 325h1v1h-1zM654 326h1v1h-1zM654 327h4v1h-4zM654 328h4v1h-4zM654 329h1v1h-1zM658 325h4v1h-4zM659 326h3v1h-3zM660 327h2v1h-2zM659 328h3v1h-3zM660 329h2v1h-2zM692 325h1v1h-1zM694 325h1v1h-1zM692 326h1v1h-1zM694 326h1v1h-1zM692 327h3v1h-3zM694 328h1v1h-1zM694 329h1v1h-1zM695 325h3v1h-3zM697 326h1v1h-1zM697 327h1v1h-1zM697 328h1v1h-1zM697 329h1v1h-1zM696 327h3v1h-3zM701 325h1v1h-1zM700 326h2v1h-2zM701 327h1v1h-1zM701 328h1v1h-1zM700 329h3v1h-3zM703 325h3v1h-3zM705 326h1v1h-1zM703 327h3v1h-3zM703 328h1v1h-1zM703 329h3v1h-3zM566 331h1v1h-1zM568 331h1v1h-1zM570 331h1v1h-1zM574 331h3v1h-3zM578 331h1v1h-1zM580 331h1v1h-1zM582 331h3v1h-3zM586 331h1v1h-1zM588 331h4v1h-4zM565 332h1v1h-1zM567 332h1v1h-1zM569 332h1v1h-1zM571 332h5v1h-5zM577 332h2v1h-2zM580 332h5v1h-5zM586 332h1v1h-1zM588 332h1v1h-1zM591 332h2v1h-2zM565 333h3v1h-3zM569 333h10v1h-10zM580 333h3v1h-3zM584 333h1v1h-1zM588 333h1v1h-1zM590 333h3v1h-3zM566 334h3v1h-3zM570 334h1v1h-1zM572 334h4v1h-4zM577 334h2v1h-2zM580 334h3v1h-3zM584 334h3v1h-3zM588 334h3v1h-3zM565 335h1v1h-1zM570 335h1v1h-1zM572 335h3v1h-3zM576 335h6v1h-6zM583 335h1v1h-1zM585 335h1v1h-1zM587 335h1v1h-1zM589 335h3v1h-3zM605 331h2v1h-2zM605 332h3v1h-3zM605 333h3v1h-3zM605 334h3v1h-3zM605 335h2v1h-2zM622 331h3v1h-3zM622 332h1v1h-1zM622 333h2v1h-2zM622 334h3v1h-3zM622 335h3v1h-3zM636 331h1v1h-1zM638 331h1v1h-1zM636 332h1v1h-1zM638 332h1v1h-1zM636 333h3v1h-3zM638 334h1v1h-1zM638 335h1v1h-1zM650 331h1v1h-1zM650 332h1v1h-1zM650 333h1v1h-1zM654 333h1v1h-1zM650 334h5v1h-5zM650 335h1v1h-1zM652 335h4v1h-4zM659 331h1v1h-1zM656 332h1v1h-1zM659 332h1v1h-1zM658 333h3v1h-3zM656 334h6v1h-6zM659 335h1v1h-1zM663 331h4v1h-4zM662 332h3v1h-3zM667 332h1v1h-1zM662 333h4v1h-4zM663 334h2v1h-2zM666 334h2v1h-2zM662 335h6v1h-6zM692 331h3v1h-3zM694 332h1v1h-1zM692 333h3v1h-3zM694 334h1v1h-1zM692 335h3v1h-3zM695 331h1v1h-1zM697 331h1v1h-1zM695 332h1v1h-1zM697 332h1v1h-1zM695 333h3v1h-3zM697 334h1v1h-1zM697 335h1v1h-1zM696 333h3v1h-3zM700 331h3v1h-3zM700 332h1v1h-1zM700 333h3v1h-3zM702 334h1v1h-1zM700 335h3v1h-3zM703 331h3v1h-3zM703 332h1v1h-1zM703 333h3v1h-3zM705 334h1v1h-1zM703 335h3v1h-3zM566 337h3v1h-3zM570 337h3v1h-3zM574 337h1v1h-1zM576 337h1v1h-1zM579 337h3v1h-3zM585 337h2v1h-2zM588 337h5v1h-5zM594 337h1v1h-1zM565 338h3v1h-3zM569 338h1v1h-1zM571 338h2v1h-2zM577 338h2v1h-2zM580 338h3v1h-3zM588 338h2v1h-2zM591 338h1v1h-1zM593 338h2v1h-2zM565 339h2v1h-2zM569 339h6v1h-6zM576 339h1v1h-1zM578 339h5v1h-5zM584 339h3v1h-3zM589 339h2v1h-2zM594 339h1v1h-1zM565 340h1v1h-1zM567 340h2v1h-2zM571 340h2v1h-2zM574 340h2v1h-2zM578 340h4v1h-4zM583 340h2v1h-2zM586 340h5v1h-5zM592 340h2v1h-2zM565 341h4v1h-4zM570 341h2v1h-2zM575 341h1v1h-1zM578 341h2v1h-2zM582 341h2v1h-2zM585 341h1v1h-1zM587 341h4v1h-4zM592 341h1v1h-1zM594 341h1v1h-1zM605 337h3v1h-3zM605 338h1v1h-1zM607 338h1v1h-1zM607 339h1v1h-1zM607 340h1v1h-1zM605 341h3v1h-3zM613 337h1v1h-1zM611 338h1v1h-1zM613 338h1v1h-1zM611 339h3v1h-3zM611 340h3v1h-3zM613 341h1v1h-1zM617 337h2v1h-2zM617 338h2v1h-2zM616 339h3v1h-3zM617 340h2v1h-2zM617 341h2v1h-2zM623 337h1v1h-1zM622 338h3v1h-3zM623 339h2v1h-2zM622 340h3v1h-3zM623 341h1v1h-1zM637 337h1v1h-1zM636 338h2v1h-2zM637 339h1v1h-1zM637 340h1v1h-1zM636 341h3v1h-3zM648 337h1v1h-1zM652 337h1v1h-1zM650 338h1v1h-1zM652 338h1v1h-1zM650 339h3v1h-3zM647 340h6v1h-6zM652 341h1v1h-1zM654 337h5v1h-5zM654 338h1v1h-1zM654 339h1v1h-1zM653 340h2v1h-2zM654 341h4v1h-4zM660 337h1v1h-1zM662 337h1v1h-1zM659 338h6v1h-6zM660 339h5v1h-5zM659 340h5v1h-5zM662 341h1v1h-1zM565 343h1v1h-1zM568 343h1v1h-1zM571 343h4v1h-4zM578 343h2v1h-2zM582 343h1v1h-1zM584 343h1v1h-1zM586 343h4v1h-4zM592 343h1v1h-1zM565 344h4v1h-4zM570 344h2v1h-2zM574 344h3v1h-3zM579 344h4v1h-4zM584 344h3v1h-3zM588 344h1v1h-1zM590 344h3v1h-3zM566 345h4v1h-4zM574 345h1v1h-1zM576 345h1v1h-1zM578 345h2v1h-2zM582 345h2v1h-2zM586 345h1v1h-1zM588 345h4v1h-4zM566 346h3v1h-3zM572 346h1v1h-1zM574 346h4v1h-4zM581 346h4v1h-4zM586 346h2v1h-2zM589 346h2v1h-2zM592 346h1v1h-1zM565 347h1v1h-1zM568 347h2v1h-2zM573 347h4v1h-4zM578 347h1v1h-1zM581 347h2v1h-2zM584 347h1v1h-1zM586 347h1v1h-1zM588 347h1v1h-1zM606 343h1v1h-1zM605 344h3v1h-3zM605 345h3v1h-3zM606 346h2v1h-2zM606 347h1v1h-1zM614 343h1v1h-1zM616 343h1v1h-1zM616 344h1v1h-1zM616 345h1v1h-1zM614 346h3v1h-3zM616 347h1v1h-1zM622 343h3v1h-3zM622 344h3v1h-3zM622 345h1v1h-1zM624 345h1v1h-1zM622 346h1v1h-1zM624 346h1v1h-1zM622 347h3v1h-3zM637 343h1v1h-1zM636 344h2v1h-2zM637 345h1v1h-1zM637 346h1v1h-1zM636 347h3v1h-3zM652 343h1v1h-1zM651 344h3v1h-3zM652 345h2v1h-2zM652 346h1v1h-1zM652 347h1v1h-1zM655 343h1v1h-1zM657 343h1v1h-1zM655 344h3v1h-3zM655 345h1v1h-1zM657 345h1v1h-1zM655 346h1v1h-1zM657 346h1v1h-1zM655 347h3v1h-3zM658 343h4v1h-4zM658 344h4v1h-4zM659 345h1v1h-1zM658 346h2v1h-2zM659 347h1v1h-1zM692 343h3v1h-3zM694 344h1v1h-1zM692 345h3v1h-3zM692 346h1v1h-1zM692 347h3v1h-3zM695 343h3v1h-3zM695 344h1v1h-1zM695 345h3v1h-3zM695 346h1v1h-1zM697 346h1v1h-1zM695 347h3v1h-3zM696 345h3v1h-3zM700 343h3v1h-3zM700 344h1v1h-1zM700 345h3v1h-3zM702 346h1v1h-1zM700 347h3v1h-3zM703 343h3v1h-3zM705 344h1v1h-1zM703 345h3v1h-3zM705 346h1v1h-1zM703 347h3v1h-3zM566 349h1v1h-1zM568 349h1v1h-1zM570 349h2v1h-2zM573 349h1v1h-1zM575 349h1v1h-1zM578 349h1v1h-1zM580 349h3v1h-3zM589 349h1v1h-1zM591 349h2v1h-2zM565 350h5v1h-5zM571 350h10v1h-10zM582 350h1v1h-1zM584 350h5v1h-5zM590 350h1v1h-1zM593 350h1v1h-1zM565 351h1v1h-1zM568 351h5v1h-5zM574 351h3v1h-3zM578 351h4v1h-4zM584 351h4v1h-4zM590 351h1v1h-1zM592 351h2v1h-2zM565 352h2v1h-2zM569 352h2v1h-2zM572 352h1v1h-1zM574 352h1v1h-1zM576 352h5v1h-5zM583 352h2v1h-2zM586 352h2v1h-2zM589 352h4v1h-4zM605 349h3v1h-3zM605 350h3v1h-3zM605 351h3v1h-3zM605 352h3v1h-3zM614 349h1v1h-1zM616 349h1v1h-1zM614 350h1v1h-1zM616 350h1v1h-1zM614 351h3v1h-3zM615 352h2v1h-2zM622 349h1v1h-1zM622 350h1v1h-1zM622 351h3v1h-3zM622 352h1v1h-1zM637 349h1v1h-1zM636 350h2v1h-2zM637 351h1v1h-1zM637 352h1v1h-1zM647 349h1v1h-1zM649 349h1v1h-1zM649 350h4v1h-4zM648 351h2v1h-2zM648 352h5v1h-5zM654 349h5v1h-5zM656 350h1v1h-1zM658 350h1v1h-1zM654 351h5v1h-5zM654 352h1v1h-1zM656 352h1v1h-1zM658 352h1v1h-1zM659 349h3v1h-3zM663 349h1v1h-1zM659 350h2v1h-2zM662 350h2v1h-2zM659 351h5v1h-5zM659 352h5v1h-5zM692 349h1v1h-1zM694 349h1v1h-1zM692 350h1v1h-1zM694 350h1v1h-1zM692 351h3v1h-3zM694 352h1v1h-1zM695 349h1v1h-1zM697 349h1v1h-1zM695 350h1v1h-1zM697 350h1v1h-1zM695 351h3v1h-3zM697 352h1v1h-1zM696 351h3v1h-3zM700 349h1v1h-1zM702 349h1v1h-1zM700 350h1v1h-1zM702 350h1v1h-1zM700 351h3v1h-3zM702 352h1v1h-1zM703 349h3v1h-3zM705 350h1v1h-1zM705 351h1v1h-1zM705 352h1v1h-1zM565 354h6v1h-6zM572 354h1v1h-1zM574 354h1v1h-1zM576 354h4v1h-4zM582 354h1v1h-1zM584 354h1v1h-1zM586 354h3v1h-3zM592 354h2v1h-2zM566 355h2v1h-2zM569 355h1v1h-1zM571 355h10v1h-10zM582 355h1v1h-1zM584 355h4v1h-4zM589 355h1v1h-1zM591 355h2v1h-2zM565 356h3v1h-3zM569 356h2v1h-2zM572 356h3v1h-3zM576 356h2v1h-2zM579 356h3v1h-3zM584 356h3v1h-3zM588 356h1v1h-1zM590 356h1v1h-1zM592 356h2v1h-2zM568 357h4v1h-4zM574 357h1v1h-1zM576 357h1v1h-1zM578 357h6v1h-6zM585 357h2v1h-2zM588 357h1v1h-1zM591 357h3v1h-3zM566 358h1v1h-1zM568 358h2v1h-2zM573 358h1v1h-1zM575 358h1v1h-1zM579 358h1v1h-1zM581 358h1v1h-1zM583 358h2v1h-2zM586 358h1v1h-1zM589 358h1v1h-1zM591 358h1v1h-1zM593 358h1v1h-1zM605 354h3v1h-3zM605 355h3v1h-3zM605 356h3v1h-3zM606 357h1v1h-1zM606 358h1v1h-1zM623 354h1v1h-1zM623 355h1v1h-1zM622 356h3v1h-3zM623 357h1v1h-1zM623 358h1v1h-1zM637 354h1v1h-1zM636 355h2v1h-2zM637 356h1v1h-1zM637 357h1v1h-1zM636 358h3v1h-3zM648 354h2v1h-2zM648 355h3v1h-3zM648 356h1v1h-1zM650 356h1v1h-1zM648 357h1v1h-1zM647 358h4v1h-4zM652 354h1v1h-1zM654 354h1v1h-1zM652 355h1v1h-1zM654 355h1v1h-1zM652 356h1v1h-1zM654 356h1v1h-1zM651 357h2v1h-2zM654 357h1v1h-1zM651 358h4v1h-4zM655 354h4v1h-4zM656 355h3v1h-3zM656 356h2v1h-2zM657 357h1v1h-1zM656 358h2v1h-2zM565 360h6v1h-6zM572 360h3v1h-3zM579 360h2v1h-2zM582 360h1v1h-1zM586 360h3v1h-3zM592 360h2v1h-2zM565 361h6v1h-6zM573 361h1v1h-1zM576 361h5v1h-5zM582 361h7v1h-7zM591 361h2v1h-2zM595 361h1v1h-1zM572 362h5v1h-5zM578 362h3v1h-3zM582 362h3v1h-3zM586 362h1v1h-1zM588 362h1v1h-1zM590 362h2v1h-2zM593 362h1v1h-1zM595 362h1v1h-1zM565 363h2v1h-2zM568 363h3v1h-3zM575 363h1v1h-1zM577 363h1v1h-1zM579 363h2v1h-2zM583 363h1v1h-1zM585 363h3v1h-3zM590 363h1v1h-1zM592 363h2v1h-2zM595 363h1v1h-1zM565 364h2v1h-2zM568 364h1v1h-1zM570 364h1v1h-1zM572 364h6v1h-6zM581 364h6v1h-6zM588 364h6v1h-6zM595 364h1v1h-1zM605 360h1v1h-1zM607 360h1v1h-1zM605 361h2v1h-2zM605 362h1v1h-1zM605 363h3v1h-3zM605 364h3v1h-3zM624 360h1v1h-1zM622 361h3v1h-3zM624 362h1v1h-1zM622 363h3v1h-3zM624 364h1v1h-1zM636 360h3v1h-3zM638 361h1v1h-1zM636 362h3v1h-3zM636 363h1v1h-1zM636 364h3v1h-3zM651 360h2v1h-2zM651 361h2v1h-2zM651 362h3v1h-3zM651 363h2v1h-2zM650 364h4v1h-4zM654 360h1v1h-1zM654 361h1v1h-1zM656 361h1v1h-1zM654 362h1v1h-1zM654 363h4v1h-4zM654 364h4v1h-4zM659 360h3v1h-3zM659 361h3v1h-3zM659 362h3v1h-3zM658 363h1v1h-1zM660 363h2v1h-2zM660 364h2v1h-2zM692 360h3v1h-3zM694 361h1v1h-1zM692 362h3v1h-3zM692 363h1v1h-1zM692 364h3v1h-3zM695 360h3v1h-3zM697 361h1v1h-1zM695 362h3v1h-3zM697 363h1v1h-1zM695 364h3v1h-3zM696 362h3v1h-3zM700 360h3v1h-3zM700 361h1v1h-1zM700 362h3v1h-3zM702 363h1v1h-1zM700 364h3v1h-3zM703 360h3v1h-3zM703 361h1v1h-1zM705 361h1v1h-1zM703 362h1v1h-1zM705 362h1v1h-1zM703 363h1v1h-1zM705 363h1v1h-1zM703 364h3v1h-3zM565 366h1v1h-1zM567 366h6v1h-6zM574 366h1v1h-1zM577 366h5v1h-5zM583 366h2v1h-2zM587 366h6v1h-6zM567 367h5v1h-5zM573 367h6v1h-6zM581 367h3v1h-3zM587 367h1v1h-1zM590 367h1v1h-1zM594 367h1v1h-1zM565 368h3v1h-3zM570 368h2v1h-2zM573 368h1v1h-1zM575 368h1v1h-1zM577 368h3v1h-3zM583 368h1v1h-1zM585 368h1v1h-1zM588 368h2v1h-2zM591 368h1v1h-1zM593 368h1v1h-1zM566 369h3v1h-3zM570 369h1v1h-1zM572 369h2v1h-2zM577 369h4v1h-4zM582 369h2v1h-2zM586 369h3v1h-3zM590 369h1v1h-1zM592 369h2v1h-2zM565 370h5v1h-5zM571 370h2v1h-2zM574 370h2v1h-2zM578 370h1v1h-1zM581 370h2v1h-2zM585 370h1v1h-1zM591 370h1v1h-1zM594 370h1v1h-1zM606 366h2v1h-2zM606 367h2v1h-2zM605 368h3v1h-3zM606 369h2v1h-2zM606 370h2v1h-2zM614 366h1v1h-1zM614 367h1v1h-1zM616 367h1v1h-1zM614 368h1v1h-1zM614 369h3v1h-3zM614 370h2v1h-2zM623 366h1v1h-1zM623 367h2v1h-2zM622 368h3v1h-3zM623 369h1v1h-1zM623 370h1v1h-1zM637 366h1v1h-1zM636 367h2v1h-2zM637 368h1v1h-1zM637 369h1v1h-1zM636 370h3v1h-3zM651 366h1v1h-1zM653 366h1v1h-1zM651 367h3v1h-3zM651 368h1v1h-1zM653 368h1v1h-1zM651 369h1v1h-1zM653 369h1v1h-1zM650 370h4v1h-4zM654 366h4v1h-4zM654 367h1v1h-1zM656 367h2v1h-2zM654 368h4v1h-4zM654 369h1v1h-1zM654 370h1v1h-1zM659 366h3v1h-3zM660 367h1v1h-1zM659 368h2v1h-2zM658 369h4v1h-4zM660 370h1v1h-1zM692 366h3v1h-3zM692 367h1v1h-1zM692 368h3v1h-3zM694 369h1v1h-1zM692 370h3v1h-3zM695 366h3v1h-3zM695 367h1v1h-1zM697 367h1v1h-1zM695 368h1v1h-1zM697 368h1v1h-1zM695 369h1v1h-1zM697 369h1v1h-1zM695 370h3v1h-3zM696 368h3v1h-3zM700 366h1v1h-1zM702 366h1v1h-1zM700 367h1v1h-1zM702 367h1v1h-1zM700 368h3v1h-3zM702 369h1v1h-1zM702 370h1v1h-1zM703 366h3v1h-3zM703 367h1v1h-1zM705 367h1v1h-1zM703 368h1v1h-1zM705 368h1v1h-1zM703 369h1v1h-1zM705 369h1v1h-1zM703 370h3v1h-3zM565 372h4v1h-4zM570 372h1v1h-1zM572 372h1v1h-1zM574 372h3v1h-3zM581 372h1v1h-1zM585 372h5v1h-5zM591 372h1v1h-1zM565 373h1v1h-1zM567 373h2v1h-2zM570 373h1v1h-1zM572 373h5v1h-5zM578 373h3v1h-3zM583 373h1v1h-1zM585 373h1v1h-1zM587 373h1v1h-1zM591 373h1v1h-1zM565 374h1v1h-1zM567 374h2v1h-2zM570 374h1v1h-1zM572 374h1v1h-1zM575 374h1v1h-1zM577 374h1v1h-1zM582 374h3v1h-3zM587 374h3v1h-3zM591 374h1v1h-1zM565 375h5v1h-5zM571 375h1v1h-1zM573 375h1v1h-1zM575 375h1v1h-1zM580 375h1v1h-1zM584 375h2v1h-2zM588 375h2v1h-2zM565 376h2v1h-2zM568 376h2v1h-2zM571 376h4v1h-4zM576 376h3v1h-3zM580 376h2v1h-2zM583 376h3v1h-3zM587 376h2v1h-2zM590 376h2v1h-2zM605 372h1v1h-1zM605 373h2v1h-2zM605 374h3v1h-3zM605 375h3v1h-3zM605 376h1v1h-1zM607 376h1v1h-1zM623 372h1v1h-1zM622 373h3v1h-3zM623 374h1v1h-1zM622 375h3v1h-3zM622 376h2v1h-2zM637 372h1v1h-1zM636 373h2v1h-2zM637 374h1v1h-1zM637 375h1v1h-1zM636 376h3v1h-3zM650 372h4v1h-4zM650 373h2v1h-2zM650 374h1v1h-1zM650 375h4v1h-4zM650 376h1v1h-1zM654 372h1v1h-1zM656 372h1v1h-1zM654 373h4v1h-4zM655 374h3v1h-3zM656 375h2v1h-2zM656 376h2v1h-2zM659 372h2v1h-2zM659 373h3v1h-3zM658 374h4v1h-4zM659 375h2v1h-2zM659 376h2v1h-2zM692 372h3v1h-3zM692 373h1v1h-1zM692 374h3v1h-3zM694 375h1v1h-1zM692 376h3v1h-3zM695 372h3v1h-3zM695 373h1v1h-1zM697 373h1v1h-1zM695 374h3v1h-3zM697 375h1v1h-1zM695 376h3v1h-3zM696 374h3v1h-3zM700 372h3v1h-3zM702 373h1v1h-1zM700 374h3v1h-3zM702 375h1v1h-1zM700 376h3v1h-3zM703 372h3v1h-3zM703 373h1v1h-1zM703 374h3v1h-3zM703 375h1v1h-1zM705 375h1v1h-1zM703 376h3v1h-3zM565 378h2v1h-2zM570 378h3v1h-3zM577 378h2v1h-2zM582 378h2v1h-2zM585 378h10v1h-10zM566 379h2v1h-2zM569 379h6v1h-6zM577 379h4v1h-4zM583 379h2v1h-2zM587 379h3v1h-3zM593 379h2v1h-2zM567 380h3v1h-3zM571 380h1v1h-1zM574 380h1v1h-1zM578 380h4v1h-4zM584 380h6v1h-6zM591 380h1v1h-1zM593 380h1v1h-1zM566 381h1v1h-1zM568 381h2v1h-2zM572 381h6v1h-6zM580 381h4v1h-4zM585 381h3v1h-3zM589 381h6v1h-6zM605 378h2v1h-2zM605 379h2v1h-2zM605 380h3v1h-3zM605 381h2v1h-2zM622 378h3v1h-3zM622 379h3v1h-3zM623 380h2v1h-2zM623 381h2v1h-2zM636 378h3v1h-3zM638 379h1v1h-1zM636 380h3v1h-3zM636 381h1v1h-1zM647 378h4v1h-4zM648 379h2v1h-2zM648 380h2v1h-2zM648 381h2v1h-2zM651 378h4v1h-4zM651 379h2v1h-2zM651 380h2v1h-2zM654 380h1v1h-1zM651 381h3v1h-3zM655 378h4v1h-4zM655 379h2v1h-2zM655 380h2v1h-2zM655 381h3v1h-3zM692 378h1v1h-1zM694 378h1v1h-1zM692 379h1v1h-1zM694 379h1v1h-1zM692 380h3v1h-3zM694 381h1v1h-1zM695 378h3v1h-3zM697 379h1v1h-1zM697 380h1v1h-1zM697 381h1v1h-1zM696 380h3v1h-3zM700 378h3v1h-3zM702 379h1v1h-1zM700 380h3v1h-3zM702 381h1v1h-1zM704 378h1v1h-1zM703 379h2v1h-2zM704 380h1v1h-1zM704 381h1v1h-1zM565 383h1v1h-1zM567 383h3v1h-3zM572 383h1v1h-1zM574 383h1v1h-1zM577 383h3v1h-3zM582 383h3v1h-3zM586 383h1v1h-1zM588 383h6v1h-6zM566 384h2v1h-2zM573 384h3v1h-3zM577 384h2v1h-2zM580 384h2v1h-2zM584 384h3v1h-3zM590 384h1v1h-1zM592 384h1v1h-1zM565 385h1v1h-1zM568 385h2v1h-2zM571 385h1v1h-1zM573 385h1v1h-1zM576 385h1v1h-1zM578 385h2v1h-2zM582 385h1v1h-1zM585 385h8v1h-8zM566 386h3v1h-3zM570 386h1v1h-1zM575 386h5v1h-5zM583 386h7v1h-7zM591 386h3v1h-3zM568 387h5v1h-5zM574 387h1v1h-1zM579 387h3v1h-3zM584 387h6v1h-6zM591 387h1v1h-1zM593 387h1v1h-1zM605 383h3v1h-3zM605 384h2v1h-2zM605 385h3v1h-3zM605 386h1v1h-1zM605 387h1v1h-1zM615 383h1v1h-1zM614 384h3v1h-3zM614 385h3v1h-3zM614 386h2v1h-2zM615 387h1v1h-1zM622 383h3v1h-3zM623 384h2v1h-2zM623 385h2v1h-2zM622 386h3v1h-3zM623 387h2v1h-2zM636 383h3v1h-3zM638 384h1v1h-1zM636 385h3v1h-3zM636 386h1v1h-1zM636 387h3v1h-3zM651 383h1v1h-1zM653 383h1v1h-1zM650 384h4v1h-4zM651 385h1v1h-1zM653 385h1v1h-1zM650 386h2v1h-2zM653 386h1v1h-1zM651 387h1v1h-1zM653 387h1v1h-1zM657 383h1v1h-1zM657 384h1v1h-1zM657 385h1v1h-1zM655 386h3v1h-3zM654 387h4v1h-4zM658 383h2v1h-2zM661 383h1v1h-1zM658 384h4v1h-4zM658 385h4v1h-4zM658 386h2v1h-2zM661 386h1v1h-1zM658 387h2v1h-2zM661 387h1v1h-1zM693 383h1v1h-1zM692 384h2v1h-2zM693 385h1v1h-1zM693 386h1v1h-1zM692 387h3v1h-3zM695 383h1v1h-1zM697 383h1v1h-1zM695 384h1v1h-1zM697 384h1v1h-1zM695 385h3v1h-3zM697 386h1v1h-1zM697 387h1v1h-1zM696 385h3v1h-3zM701 383h1v1h-1zM700 384h2v1h-2zM701 385h1v1h-1zM701 386h1v1h-1zM700 387h3v1h-3zM703 383h3v1h-3zM703 384h1v1h-1zM703 385h3v1h-3zM703 386h1v1h-1zM705 386h1v1h-1zM703 387h3v1h-3zM565 389h1v1h-1zM571 389h2v1h-2zM576 389h2v1h-2zM579 389h5v1h-5zM587 389h3v1h-3zM565 390h3v1h-3zM570 390h2v1h-2zM573 390h3v1h-3zM577 390h1v1h-1zM580 390h1v1h-1zM585 390h1v1h-1zM587 390h3v1h-3zM591 390h3v1h-3zM566 391h1v1h-1zM568 391h1v1h-1zM570 391h2v1h-2zM575 391h1v1h-1zM578 391h8v1h-8zM589 391h1v1h-1zM593 391h1v1h-1zM565 392h4v1h-4zM572 392h7v1h-7zM580 392h1v1h-1zM582 392h1v1h-1zM584 392h2v1h-2zM588 392h3v1h-3zM592 392h2v1h-2zM565 393h13v1h-13zM580 393h3v1h-3zM584 393h2v1h-2zM588 393h5v1h-5zM605 389h3v1h-3zM605 390h3v1h-3zM605 391h3v1h-3zM605 392h1v1h-1zM607 392h1v1h-1zM606 393h2v1h-2zM622 389h3v1h-3zM622 390h2v1h-2zM622 391h1v1h-1zM622 392h1v1h-1zM624 392h1v1h-1zM622 393h1v1h-1zM637 389h1v1h-1zM636 390h2v1h-2zM637 391h1v1h-1zM637 392h1v1h-1zM636 393h3v1h-3zM652 389h3v1h-3zM652 390h1v1h-1zM654 390h1v1h-1zM652 391h1v1h-1zM654 391h1v1h-1zM651 392h4v1h-4zM652 393h1v1h-1zM654 393h1v1h-1zM655 389h1v1h-1zM658 389h2v1h-2zM655 390h1v1h-1zM658 390h1v1h-1zM655 391h5v1h-5zM655 392h1v1h-1zM657 392h2v1h-2zM655 393h2v1h-2zM658 393h1v1h-1zM662 389h2v1h-2zM659 390h5v1h-5zM660 391h1v1h-1zM663 391h1v1h-1zM663 392h1v1h-1zM660 393h2v1h-2zM663 393h1v1h-1zM693 389h1v1h-1zM692 390h2v1h-2zM693 391h1v1h-1zM693 392h1v1h-1zM692 393h3v1h-3zM695 389h3v1h-3zM695 390h1v1h-1zM697 390h1v1h-1zM695 391h3v1h-3zM697 392h1v1h-1zM695 393h3v1h-3zM696 391h3v1h-3zM700 389h3v1h-3zM700 390h1v1h-1zM700 391h3v1h-3zM702 392h1v1h-1zM700 393h3v1h-3zM703 389h1v1h-1zM705 389h1v1h-1zM703 390h1v1h-1zM705 390h1v1h-1zM703 391h3v1h-3zM705 392h1v1h-1zM705 393h1v1h-1zM566 395h5v1h-5zM573 395h1v1h-1zM577 395h2v1h-2zM580 395h8v1h-8zM589 395h2v1h-2zM568 396h4v1h-4zM574 396h2v1h-2zM578 396h4v1h-4zM583 396h2v1h-2zM586 396h1v1h-1zM588 396h1v1h-1zM590 396h1v1h-1zM565 397h1v1h-1zM567 397h5v1h-5zM573 397h1v1h-1zM575 397h7v1h-7zM584 397h4v1h-4zM565 398h1v1h-1zM568 398h1v1h-1zM570 398h4v1h-4zM577 398h2v1h-2zM580 398h2v1h-2zM583 398h1v1h-1zM586 398h1v1h-1zM588 398h1v1h-1zM565 399h3v1h-3zM569 399h3v1h-3zM573 399h2v1h-2zM576 399h3v1h-3zM580 399h3v1h-3zM585 399h4v1h-4zM590 399h2v1h-2zM605 395h3v1h-3zM607 396h1v1h-1zM605 397h3v1h-3zM606 398h2v1h-2zM605 399h3v1h-3zM614 395h3v1h-3zM614 396h1v1h-1zM614 397h1v1h-1zM616 397h1v1h-1zM614 398h1v1h-1zM614 399h3v1h-3zM622 395h3v1h-3zM622 396h3v1h-3zM624 397h1v1h-1zM624 398h1v1h-1zM622 399h3v1h-3zM637 395h1v1h-1zM636 396h2v1h-2zM637 397h1v1h-1zM637 398h1v1h-1zM636 399h3v1h-3zM651 395h1v1h-1zM653 395h1v1h-1zM651 396h1v1h-1zM653 396h1v1h-1zM651 397h3v1h-3zM651 398h1v1h-1zM653 398h1v1h-1zM651 399h3v1h-3zM654 395h4v1h-4zM655 396h2v1h-2zM655 397h3v1h-3zM655 398h2v1h-2zM654 399h4v1h-4zM658 395h2v1h-2zM661 395h1v1h-1zM658 396h2v1h-2zM658 397h2v1h-2zM658 398h2v1h-2zM658 399h4v1h-4zM566 401h9v1h-9zM578 401h2v1h-2zM582 401h1v1h-1zM584 401h7v1h-7zM567 402h1v1h-1zM570 402h1v1h-1zM572 402h2v1h-2zM575 402h3v1h-3zM579 402h1v1h-1zM581 402h3v1h-3zM585 402h1v1h-1zM587 402h7v1h-7zM566 403h1v1h-1zM568 403h4v1h-4zM575 403h1v1h-1zM577 403h2v1h-2zM580 403h5v1h-5zM586 403h2v1h-2zM589 403h3v1h-3zM593 403h1v1h-1zM566 404h1v1h-1zM570 404h6v1h-6zM580 404h1v1h-1zM582 404h3v1h-3zM586 404h1v1h-1zM589 404h2v1h-2zM565 405h3v1h-3zM569 405h1v1h-1zM572 405h3v1h-3zM576 405h1v1h-1zM578 405h4v1h-4zM584 405h4v1h-4zM591 405h1v1h-1zM605 401h3v1h-3zM605 402h2v1h-2zM605 403h2v1h-2zM605 404h3v1h-3zM605 405h2v1h-2zM611 401h3v1h-3zM612 402h2v1h-2zM612 403h2v1h-2zM612 404h2v1h-2zM612 405h2v1h-2zM617 401h1v1h-1zM616 402h3v1h-3zM617 403h1v1h-1zM617 404h1v1h-1zM617 405h1v1h-1zM622 401h1v1h-1zM624 401h1v1h-1zM622 402h3v1h-3zM622 403h3v1h-3zM622 404h1v1h-1zM624 404h1v1h-1zM622 405h1v1h-1zM624 405h1v1h-1zM636 401h1v1h-1zM638 401h1v1h-1zM636 402h1v1h-1zM638 402h1v1h-1zM636 403h3v1h-3zM638 404h1v1h-1zM638 405h1v1h-1zM648 401h1v1h-1zM651 401h1v1h-1zM648 402h1v1h-1zM651 402h1v1h-1zM648 403h5v1h-5zM647 404h6v1h-6zM648 405h1v1h-1zM651 405h1v1h-1zM656 401h1v1h-1zM658 401h1v1h-1zM656 402h1v1h-1zM658 402h1v1h-1zM653 403h6v1h-6zM656 404h1v1h-1zM658 404h1v1h-1zM653 405h6v1h-6zM661 401h1v1h-1zM663 401h2v1h-2zM664 402h1v1h-1zM659 403h6v1h-6zM659 404h1v1h-1zM664 404h1v1h-1zM660 405h1v1h-1zM663 405h2v1h-2zM692 401h1v1h-1zM694 401h1v1h-1zM692 402h1v1h-1zM694 402h1v1h-1zM692 403h3v1h-3zM694 404h1v1h-1zM694 405h1v1h-1zM695 401h3v1h-3zM695 402h1v1h-1zM697 402h1v1h-1zM695 403h3v1h-3zM695 404h1v1h-1zM697 404h1v1h-1zM695 405h3v1h-3zM696 403h3v1h-3zM700 401h3v1h-3zM700 402h1v1h-1zM700 403h3v1h-3zM702 404h1v1h-1zM700 405h3v1h-3zM703 401h3v1h-3zM705 402h1v1h-1zM703 403h3v1h-3zM705 404h1v1h-1zM703 405h3v1h-3zM565 407h2v1h-2zM568 407h1v1h-1zM573 407h1v1h-1zM575 407h2v1h-2zM578 407h3v1h-3zM582 407h6v1h-6zM589 407h5v1h-5zM566 408h3v1h-3zM570 408h4v1h-4zM575 408h4v1h-4zM582 408h1v1h-1zM584 408h2v1h-2zM588 408h1v1h-1zM590 408h4v1h-4zM565 409h1v1h-1zM568 409h1v1h-1zM571 409h3v1h-3zM576 409h1v1h-1zM578 409h1v1h-1zM585 409h1v1h-1zM587 409h7v1h-7zM565 410h3v1h-3zM569 410h5v1h-5zM577 410h3v1h-3zM582 410h2v1h-2zM585 410h5v1h-5zM591 410h2v1h-2zM605 407h3v1h-3zM605 408h2v1h-2zM606 409h1v1h-1zM605 410h3v1h-3zM614 407h3v1h-3zM614 408h3v1h-3zM614 409h2v1h-2zM614 410h2v1h-2zM624 407h1v1h-1zM624 408h1v1h-1zM622 409h3v1h-3zM622 410h3v1h-3zM637 407h1v1h-1zM636 408h2v1h-2zM637 409h1v1h-1zM637 410h1v1h-1zM649 407h2v1h-2zM648 408h1v1h-1zM650 408h1v1h-1zM650 409h1v1h-1zM647 410h4v1h-4zM651 407h4v1h-4zM651 408h2v1h-2zM654 408h1v1h-1zM653 409h2v1h-2zM652 410h1v1h-1zM654 410h1v1h-1zM658 407h1v1h-1zM655 408h4v1h-4zM658 409h1v1h-1zM658 410h1v1h-1zM567 412h6v1h-6zM575 412h1v1h-1zM578 412h1v1h-1zM581 412h1v1h-1zM584 412h2v1h-2zM587 412h3v1h-3zM565 413h8v1h-8zM574 413h2v1h-2zM577 413h2v1h-2zM582 413h2v1h-2zM585 413h1v1h-1zM588 413h4v1h-4zM593 413h1v1h-1zM565 414h2v1h-2zM571 414h7v1h-7zM580 414h1v1h-1zM582 414h3v1h-3zM586 414h1v1h-1zM588 414h1v1h-1zM590 414h3v1h-3zM565 415h1v1h-1zM567 415h3v1h-3zM572 415h1v1h-1zM574 415h3v1h-3zM580 415h2v1h-2zM584 415h1v1h-1zM587 415h2v1h-2zM592 415h1v1h-1zM565 416h8v1h-8zM575 416h1v1h-1zM577 416h2v1h-2zM581 416h2v1h-2zM586 416h4v1h-4zM593 416h1v1h-1zM605 412h2v1h-2zM605 413h1v1h-1zM605 414h3v1h-3zM605 415h1v1h-1zM605 416h3v1h-3zM614 412h2v1h-2zM614 413h2v1h-2zM614 414h2v1h-2zM614 415h3v1h-3zM614 416h3v1h-3zM622 412h2v1h-2zM622 413h2v1h-2zM622 414h3v1h-3zM622 415h2v1h-2zM622 416h3v1h-3zM636 412h3v1h-3zM638 413h1v1h-1zM636 414h3v1h-3zM636 415h1v1h-1zM636 416h3v1h-3zM650 412h5v1h-5zM651 413h2v1h-2zM650 414h5v1h-5zM651 415h1v1h-1zM651 416h1v1h-1zM658 412h2v1h-2zM658 413h2v1h-2zM655 414h5v1h-5zM656 415h4v1h-4zM658 416h2v1h-2zM663 412h1v1h-1zM660 413h4v1h-4zM663 414h1v1h-1zM661 415h1v1h-1zM663 415h1v1h-1zM659 416h5v1h-5zM692 412h3v1h-3zM694 413h1v1h-1zM692 414h3v1h-3zM694 415h1v1h-1zM692 416h3v1h-3zM695 412h3v1h-3zM695 413h1v1h-1zM695 414h3v1h-3zM695 415h1v1h-1zM697 415h1v1h-1zM695 416h3v1h-3zM696 414h3v1h-3zM700 412h1v1h-1zM702 412h1v1h-1zM700 413h1v1h-1zM702 413h1v1h-1zM700 414h3v1h-3zM702 415h1v1h-1zM702 416h1v1h-1zM703 412h3v1h-3zM705 413h1v1h-1zM705 414h1v1h-1zM705 415h1v1h-1zM705 416h1v1h-1zM568 418h4v1h-4zM574 418h3v1h-3zM578 418h1v1h-1zM580 418h3v1h-3zM584 418h1v1h-1zM587 418h4v1h-4zM592 418h1v1h-1zM565 419h2v1h-2zM570 419h3v1h-3zM575 419h2v1h-2zM579 419h2v1h-2zM583 419h1v1h-1zM585 419h1v1h-1zM587 419h5v1h-5zM565 420h1v1h-1zM568 420h4v1h-4zM573 420h1v1h-1zM575 420h13v1h-13zM590 420h2v1h-2zM565 421h4v1h-4zM571 421h6v1h-6zM581 421h2v1h-2zM586 421h3v1h-3zM590 421h1v1h-1zM592 421h1v1h-1zM566 422h2v1h-2zM569 422h3v1h-3zM573 422h3v1h-3zM578 422h4v1h-4zM584 422h1v1h-1zM586 422h5v1h-5zM605 418h3v1h-3zM605 419h2v1h-2zM605 420h3v1h-3zM605 421h2v1h-2zM605 422h2v1h-2zM611 418h1v1h-1zM611 419h3v1h-3zM611 420h1v1h-1zM613 420h1v1h-1zM611 421h1v1h-1zM611 422h1v1h-1zM618 418h1v1h-1zM618 419h1v1h-1zM616 420h3v1h-3zM616 421h3v1h-3zM618 422h1v1h-1zM622 418h3v1h-3zM622 419h3v1h-3zM622 420h3v1h-3zM622 421h3v1h-3zM622 422h3v1h-3zM636 418h3v1h-3zM638 419h1v1h-1zM636 420h3v1h-3zM636 421h1v1h-1zM636 422h3v1h-3zM647 418h4v1h-4zM647 419h1v1h-1zM649 419h1v1h-1zM647 420h1v1h-1zM649 420h1v1h-1zM647 421h3v1h-3zM647 422h1v1h-1zM649 422h1v1h-1zM651 418h2v1h-2zM654 418h1v1h-1zM653 419h2v1h-2zM652 420h3v1h-3zM653 421h2v1h-2zM654 422h1v1h-1zM655 418h3v1h-3zM655 419h2v1h-2zM655 420h4v1h-4zM655 421h4v1h-4zM655 422h4v1h-4zM692 418h3v1h-3zM692 419h1v1h-1zM692 420h3v1h-3zM694 421h1v1h-1zM692 422h3v1h-3zM695 418h3v1h-3zM695 419h1v1h-1zM697 419h1v1h-1zM695 420h1v1h-1zM697 420h1v1h-1zM695 421h1v1h-1zM697 421h1v1h-1zM695 422h3v1h-3zM696 420h3v1h-3zM700 418h3v1h-3zM702 419h1v1h-1zM700 420h3v1h-3zM702 421h1v1h-1zM700 422h3v1h-3zM704 418h1v1h-1zM703 419h2v1h-2zM704 420h1v1h-1zM704 421h1v1h-1zM703 422h3v1h-3zM565 424h1v1h-1zM567 424h1v1h-1zM569 424h1v1h-1zM571 424h1v1h-1zM574 424h2v1h-2zM577 424h1v1h-1zM581 424h1v1h-1zM583 424h1v1h-1zM586 424h5v1h-5zM592 424h1v1h-1zM566 425h1v1h-1zM568 425h1v1h-1zM571 425h4v1h-4zM577 425h1v1h-1zM579 425h8v1h-8zM588 425h1v1h-1zM591 425h2v1h-2zM565 426h2v1h-2zM568 426h1v1h-1zM570 426h1v1h-1zM573 426h1v1h-1zM576 426h2v1h-2zM579 426h2v1h-2zM582 426h1v1h-1zM584 426h6v1h-6zM591 426h3v1h-3zM566 427h1v1h-1zM568 427h3v1h-3zM572 427h2v1h-2zM575 427h1v1h-1zM578 427h5v1h-5zM587 427h2v1h-2zM590 427h2v1h-2zM593 427h1v1h-1zM565 428h1v1h-1zM568 428h5v1h-5zM574 428h4v1h-4zM579 428h3v1h-3zM584 428h4v1h-4zM591 428h3v1h-3zM606 424h2v1h-2zM606 425h2v1h-2zM606 426h2v1h-2zM605 427h3v1h-3zM605 428h3v1h-3zM614 424h3v1h-3zM614 425h3v1h-3zM614 426h3v1h-3zM615 427h2v1h-2zM614 428h3v1h-3zM622 424h3v1h-3zM624 425h1v1h-1zM622 426h1v1h-1zM624 426h1v1h-1zM624 427h1v1h-1zM622 428h3v1h-3zM636 424h3v1h-3zM638 425h1v1h-1zM636 426h3v1h-3zM636 427h1v1h-1zM636 428h3v1h-3zM647 424h5v1h-5zM647 425h2v1h-2zM650 425h1v1h-1zM647 426h2v1h-2zM650 426h1v1h-1zM647 427h5v1h-5zM647 428h2v1h-2zM650 428h1v1h-1zM652 424h2v1h-2zM655 424h1v1h-1zM652 425h2v1h-2zM655 425h1v1h-1zM652 426h2v1h-2zM655 426h1v1h-1zM652 427h2v1h-2zM655 427h2v1h-2zM652 428h5v1h-5zM659 424h2v1h-2zM657 425h1v1h-1zM660 425h1v1h-1zM657 426h4v1h-4zM659 427h2v1h-2zM656 428h5v1h-5zM693 424h1v1h-1zM692 425h2v1h-2zM693 426h1v1h-1zM693 427h1v1h-1zM692 428h3v1h-3zM696 424h1v1h-1zM695 425h2v1h-2zM696 426h1v1h-1zM696 427h1v1h-1zM695 428h3v1h-3zM696 426h3v1h-3zM700 424h1v1h-1zM702 424h1v1h-1zM700 425h1v1h-1zM702 425h1v1h-1zM700 426h3v1h-3zM702 427h1v1h-1zM702 428h1v1h-1zM703 424h3v1h-3zM705 425h1v1h-1zM705 426h1v1h-1zM705 427h1v1h-1zM705 428h1v1h-1zM566 430h1v1h-1zM572 430h1v1h-1zM576 430h2v1h-2zM579 430h6v1h-6zM586 430h1v1h-1zM588 430h1v1h-1zM591 430h1v1h-1zM566 431h1v1h-1zM568 431h2v1h-2zM572 431h2v1h-2zM575 431h6v1h-6zM582 431h5v1h-5zM589 431h3v1h-3zM565 432h2v1h-2zM568 432h1v1h-1zM571 432h3v1h-3zM575 432h1v1h-1zM577 432h2v1h-2zM580 432h6v1h-6zM589 432h2v1h-2zM565 433h2v1h-2zM569 433h1v1h-1zM571 433h2v1h-2zM574 433h3v1h-3zM579 433h2v1h-2zM583 433h1v1h-1zM586 433h1v1h-1zM589 433h1v1h-1zM591 433h1v1h-1zM566 434h1v1h-1zM570 434h3v1h-3zM574 434h1v1h-1zM576 434h7v1h-7zM584 434h1v1h-1zM586 434h1v1h-1zM588 434h4v1h-4zM605 430h2v1h-2zM605 431h2v1h-2zM605 432h2v1h-2zM605 433h3v1h-3zM605 434h2v1h-2zM622 430h2v1h-2zM622 431h3v1h-3zM622 432h2v1h-2zM622 433h2v1h-2zM622 434h2v1h-2zM637 430h1v1h-1zM636 431h2v1h-2zM637 432h1v1h-1zM637 433h1v1h-1zM636 434h3v1h-3zM651 430h2v1h-2zM652 431h1v1h-1zM650 432h6v1h-6zM652 433h4v1h-4zM652 434h1v1h-1zM658 430h2v1h-2zM658 431h2v1h-2zM659 432h2v1h-2zM657 433h4v1h-4zM659 434h1v1h-1zM663 430h4v1h-4zM662 431h1v1h-1zM665 431h1v1h-1zM665 432h2v1h-2zM662 433h1v1h-1zM665 433h1v1h-1zM667 433h1v1h-1zM665 434h1v1h-1zM692 430h1v1h-1zM694 430h1v1h-1zM692 431h1v1h-1zM694 431h1v1h-1zM692 432h3v1h-3zM694 433h1v1h-1zM694 434h1v1h-1zM695 430h3v1h-3zM695 431h1v1h-1zM697 431h1v1h-1zM695 432h3v1h-3zM695 433h1v1h-1zM697 433h1v1h-1zM695 434h3v1h-3zM696 432h3v1h-3zM700 430h3v1h-3zM702 431h1v1h-1zM700 432h3v1h-3zM702 433h1v1h-1zM700 434h3v1h-3zM703 430h3v1h-3zM703 431h1v1h-1zM705 431h1v1h-1zM703 432h1v1h-1zM705 432h1v1h-1zM703 433h1v1h-1zM705 433h1v1h-1zM703 434h3v1h-3z" fill="#00ffff"/>
<path d="M175 348h3v1h-3zM174 349h1v1h-1zM178 349h1v1h-1zM174 350h1v1h-1zM178 350h1v1h-1zM174 351h1v1h-1zM178 351h1v1h-1zM175 352h3v1h-3zM247 348h3v1h-3zM246 349h1v1h-1zM250 349h1v1h-1zM246 350h1v1h-1zM250 350h1v1h-1zM246 351h1v1h-1zM250 351h1v1h-1zM247 352h3v1h-3zM211 311h3v1h-3zM210 312h1v1h-1zM214 312h1v1h-1zM210 313h1v1h-1zM214 313h1v1h-1zM210 314h1v1h-1zM214 314h1v1h-1zM211 315h3v1h-3zM183 348h3v1h-3zM182 349h1v1h-1zM186 349h1v1h-1zM182 350h1v1h-1zM186 350h1v1h-1zM182 351h1v1h-1zM186 351h1v1h-1zM183 352h3v1h-3zM183 363h3v1h-3zM182 364h1v1h-1zM186 364h1v1h-1zM182 365h1v1h-1zM186 365h1v1h-1zM182 366h1v1h-1zM186 366h1v1h-1zM183 367h3v1h-3zM610 437h3v1h-3zM609 438h5v1h-5zM610 439h4v1h-4zM610 440h4v1h-4zM610 441h1v1h-1zM613 441h1v1h-1zM610 442h1v1h-1zM613 442h1v1h-1zM610 443h1v1h-1zM613 443h1v1h-1zM610 444h2v1h-2zM618 437h1v1h-1zM617 438h3v1h-3zM617 439h2v1h-2zM615 440h5v1h-5zM617 441h2v1h-2zM616 442h3v1h-3zM615 443h5v1h-5zM617 444h1v1h-1z" fill="#ffffff"/>
</svg></body></html>
